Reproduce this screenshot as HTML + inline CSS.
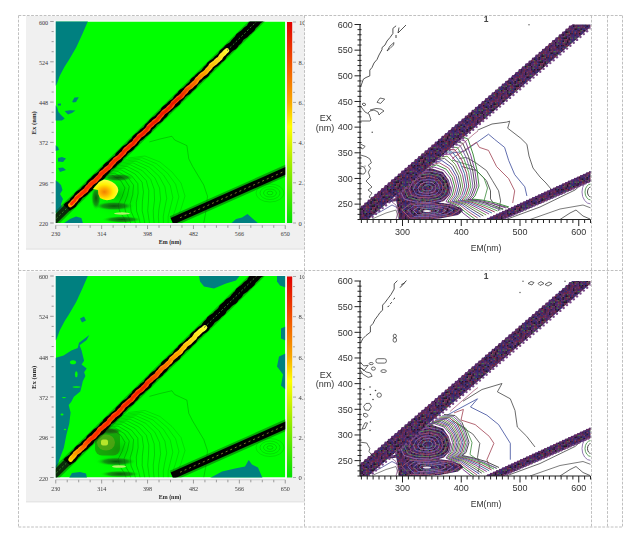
<!DOCTYPE html>
<html><head><meta charset="utf-8"><style>
html,body{margin:0;padding:0;background:#fff;}
body{width:640px;height:545px;overflow:hidden;position:relative;}
svg{position:absolute;left:0;top:0;filter:blur(0.3px);}
.ts{font-family:"Liberation Serif",serif;font-size:6.6px;fill:#3a3a3a;}
.tl{font-family:"Liberation Serif",serif;font-size:7px;font-weight:bold;fill:#2a2a2a;}
.tr{font-family:"Liberation Sans",sans-serif;font-size:9px;fill:#333;}
</style></head><body>
<svg width="640" height="545" viewBox="0 0 640 545">
<defs>
<linearGradient id="cbar" x1="0" y1="0" x2="0" y2="1">
<stop offset="0" stop-color="#e00000"/><stop offset="0.2" stop-color="#f05000"/><stop offset="0.4" stop-color="#f8a800"/>
<stop offset="0.52" stop-color="#ffff00"/><stop offset="0.65" stop-color="#c0f000"/><stop offset="0.85" stop-color="#50e800"/><stop offset="1" stop-color="#00e000"/>
</linearGradient>
<pattern id="bt" patternUnits="userSpaceOnUse" width="24" height="24"><rect width="24" height="24" fill="#40244e"/><rect x="0.0" y="0.0" width="1.5" height="1.5" fill="#4a3060"/><rect x="0.0" y="1.5" width="1.5" height="1.5" fill="#7a2a40"/><rect x="0.0" y="3.0" width="1.5" height="1.5" fill="#6a2a50"/><rect x="0.0" y="4.5" width="1.5" height="1.5" fill="#301838"/><rect x="0.0" y="6.0" width="1.5" height="1.5" fill="#5a2a6a"/><rect x="0.0" y="7.5" width="1.5" height="1.5" fill="#38287a"/><rect x="0.0" y="9.0" width="1.5" height="1.5" fill="#3a2048"/><rect x="0.0" y="10.5" width="1.5" height="1.5" fill="#38287a"/><rect x="0.0" y="12.0" width="1.5" height="1.5" fill="#4a3060"/><rect x="0.0" y="13.5" width="1.5" height="1.5" fill="#6a3070"/><rect x="0.0" y="15.0" width="1.5" height="1.5" fill="#5a2a6a"/><rect x="0.0" y="16.5" width="1.5" height="1.5" fill="#3a2048"/><rect x="0.0" y="18.0" width="1.5" height="1.5" fill="#4a6a4a"/><rect x="0.0" y="19.5" width="1.5" height="1.5" fill="#5a2a6a"/><rect x="0.0" y="21.0" width="1.5" height="1.5" fill="#38287a"/><rect x="0.0" y="22.5" width="1.5" height="1.5" fill="#6a2a50"/><rect x="1.5" y="0.0" width="1.5" height="1.5" fill="#6a2a50"/><rect x="1.5" y="1.5" width="1.5" height="1.5" fill="#38287a"/><rect x="1.5" y="3.0" width="1.5" height="1.5" fill="#4a6a4a"/><rect x="1.5" y="4.5" width="1.5" height="1.5" fill="#38287a"/><rect x="1.5" y="6.0" width="1.5" height="1.5" fill="#3a2048"/><rect x="1.5" y="7.5" width="1.5" height="1.5" fill="#6a2a50"/><rect x="1.5" y="9.0" width="1.5" height="1.5" fill="#5a2a6a"/><rect x="1.5" y="10.5" width="1.5" height="1.5" fill="#6a3070"/><rect x="1.5" y="12.0" width="1.5" height="1.5" fill="#38287a"/><rect x="1.5" y="13.5" width="1.5" height="1.5" fill="#4a6a4a"/><rect x="1.5" y="15.0" width="1.5" height="1.5" fill="#301838"/><rect x="1.5" y="16.5" width="1.5" height="1.5" fill="#301838"/><rect x="1.5" y="18.0" width="1.5" height="1.5" fill="#6a3070"/><rect x="1.5" y="19.5" width="1.5" height="1.5" fill="#5a2a6a"/><rect x="1.5" y="21.0" width="1.5" height="1.5" fill="#6a3070"/><rect x="1.5" y="22.5" width="1.5" height="1.5" fill="#6a3070"/><rect x="3.0" y="0.0" width="1.5" height="1.5" fill="#6a2a50"/><rect x="3.0" y="1.5" width="1.5" height="1.5" fill="#5a2a6a"/><rect x="3.0" y="3.0" width="1.5" height="1.5" fill="#4a6a4a"/><rect x="3.0" y="4.5" width="1.5" height="1.5" fill="#5a2a6a"/><rect x="3.0" y="6.0" width="1.5" height="1.5" fill="#3a2048"/><rect x="3.0" y="7.5" width="1.5" height="1.5" fill="#7a2a40"/><rect x="3.0" y="9.0" width="1.5" height="1.5" fill="#201428"/><rect x="3.0" y="10.5" width="1.5" height="1.5" fill="#6a2a50"/><rect x="3.0" y="12.0" width="1.5" height="1.5" fill="#7a2a40"/><rect x="3.0" y="13.5" width="1.5" height="1.5" fill="#3a2048"/><rect x="3.0" y="15.0" width="1.5" height="1.5" fill="#38287a"/><rect x="3.0" y="16.5" width="1.5" height="1.5" fill="#6a3070"/><rect x="3.0" y="18.0" width="1.5" height="1.5" fill="#201428"/><rect x="3.0" y="19.5" width="1.5" height="1.5" fill="#3a2048"/><rect x="3.0" y="21.0" width="1.5" height="1.5" fill="#301838"/><rect x="3.0" y="22.5" width="1.5" height="1.5" fill="#7a2a40"/><rect x="4.5" y="0.0" width="1.5" height="1.5" fill="#38287a"/><rect x="4.5" y="1.5" width="1.5" height="1.5" fill="#6a3070"/><rect x="4.5" y="3.0" width="1.5" height="1.5" fill="#6a3070"/><rect x="4.5" y="4.5" width="1.5" height="1.5" fill="#301838"/><rect x="4.5" y="6.0" width="1.5" height="1.5" fill="#4a6a4a"/><rect x="4.5" y="7.5" width="1.5" height="1.5" fill="#4a3060"/><rect x="4.5" y="9.0" width="1.5" height="1.5" fill="#38287a"/><rect x="4.5" y="10.5" width="1.5" height="1.5" fill="#3a2048"/><rect x="4.5" y="12.0" width="1.5" height="1.5" fill="#7a4060"/><rect x="4.5" y="13.5" width="1.5" height="1.5" fill="#38287a"/><rect x="4.5" y="15.0" width="1.5" height="1.5" fill="#6a3070"/><rect x="4.5" y="16.5" width="1.5" height="1.5" fill="#5a2a6a"/><rect x="4.5" y="18.0" width="1.5" height="1.5" fill="#6a3070"/><rect x="4.5" y="19.5" width="1.5" height="1.5" fill="#4a6a4a"/><rect x="4.5" y="21.0" width="1.5" height="1.5" fill="#30307a"/><rect x="4.5" y="22.5" width="1.5" height="1.5" fill="#301838"/><rect x="6.0" y="0.0" width="1.5" height="1.5" fill="#3a2048"/><rect x="6.0" y="1.5" width="1.5" height="1.5" fill="#6a2a50"/><rect x="6.0" y="3.0" width="1.5" height="1.5" fill="#4a3060"/><rect x="6.0" y="4.5" width="1.5" height="1.5" fill="#30307a"/><rect x="6.0" y="6.0" width="1.5" height="1.5" fill="#6a3070"/><rect x="6.0" y="7.5" width="1.5" height="1.5" fill="#30307a"/><rect x="6.0" y="9.0" width="1.5" height="1.5" fill="#4a3060"/><rect x="6.0" y="10.5" width="1.5" height="1.5" fill="#201428"/><rect x="6.0" y="12.0" width="1.5" height="1.5" fill="#4a6a4a"/><rect x="6.0" y="13.5" width="1.5" height="1.5" fill="#7a2a40"/><rect x="6.0" y="15.0" width="1.5" height="1.5" fill="#7a4060"/><rect x="6.0" y="16.5" width="1.5" height="1.5" fill="#4a6a4a"/><rect x="6.0" y="18.0" width="1.5" height="1.5" fill="#38287a"/><rect x="6.0" y="19.5" width="1.5" height="1.5" fill="#6a3070"/><rect x="6.0" y="21.0" width="1.5" height="1.5" fill="#201428"/><rect x="6.0" y="22.5" width="1.5" height="1.5" fill="#3a2048"/><rect x="7.5" y="0.0" width="1.5" height="1.5" fill="#30307a"/><rect x="7.5" y="1.5" width="1.5" height="1.5" fill="#4a3060"/><rect x="7.5" y="3.0" width="1.5" height="1.5" fill="#7a4060"/><rect x="7.5" y="4.5" width="1.5" height="1.5" fill="#30307a"/><rect x="7.5" y="6.0" width="1.5" height="1.5" fill="#201428"/><rect x="7.5" y="7.5" width="1.5" height="1.5" fill="#6a3070"/><rect x="7.5" y="9.0" width="1.5" height="1.5" fill="#38287a"/><rect x="7.5" y="10.5" width="1.5" height="1.5" fill="#38287a"/><rect x="7.5" y="12.0" width="1.5" height="1.5" fill="#3a2048"/><rect x="7.5" y="13.5" width="1.5" height="1.5" fill="#6a2a50"/><rect x="7.5" y="15.0" width="1.5" height="1.5" fill="#7a2a40"/><rect x="7.5" y="16.5" width="1.5" height="1.5" fill="#4a3060"/><rect x="7.5" y="18.0" width="1.5" height="1.5" fill="#7a2a40"/><rect x="7.5" y="19.5" width="1.5" height="1.5" fill="#30307a"/><rect x="7.5" y="21.0" width="1.5" height="1.5" fill="#6a2a50"/><rect x="7.5" y="22.5" width="1.5" height="1.5" fill="#5a2a6a"/><rect x="9.0" y="0.0" width="1.5" height="1.5" fill="#301838"/><rect x="9.0" y="1.5" width="1.5" height="1.5" fill="#38287a"/><rect x="9.0" y="3.0" width="1.5" height="1.5" fill="#3a2048"/><rect x="9.0" y="4.5" width="1.5" height="1.5" fill="#6a3070"/><rect x="9.0" y="6.0" width="1.5" height="1.5" fill="#4a3060"/><rect x="9.0" y="7.5" width="1.5" height="1.5" fill="#4a3060"/><rect x="9.0" y="9.0" width="1.5" height="1.5" fill="#7a4060"/><rect x="9.0" y="10.5" width="1.5" height="1.5" fill="#4a3060"/><rect x="9.0" y="12.0" width="1.5" height="1.5" fill="#6a3070"/><rect x="9.0" y="13.5" width="1.5" height="1.5" fill="#30307a"/><rect x="9.0" y="15.0" width="1.5" height="1.5" fill="#6a3070"/><rect x="9.0" y="16.5" width="1.5" height="1.5" fill="#30307a"/><rect x="9.0" y="18.0" width="1.5" height="1.5" fill="#38287a"/><rect x="9.0" y="19.5" width="1.5" height="1.5" fill="#38287a"/><rect x="9.0" y="21.0" width="1.5" height="1.5" fill="#201428"/><rect x="9.0" y="22.5" width="1.5" height="1.5" fill="#30307a"/><rect x="10.5" y="0.0" width="1.5" height="1.5" fill="#7a4060"/><rect x="10.5" y="1.5" width="1.5" height="1.5" fill="#301838"/><rect x="10.5" y="3.0" width="1.5" height="1.5" fill="#38287a"/><rect x="10.5" y="4.5" width="1.5" height="1.5" fill="#5a2a6a"/><rect x="10.5" y="6.0" width="1.5" height="1.5" fill="#7a4060"/><rect x="10.5" y="7.5" width="1.5" height="1.5" fill="#7a4060"/><rect x="10.5" y="9.0" width="1.5" height="1.5" fill="#201428"/><rect x="10.5" y="10.5" width="1.5" height="1.5" fill="#301838"/><rect x="10.5" y="12.0" width="1.5" height="1.5" fill="#6a3070"/><rect x="10.5" y="13.5" width="1.5" height="1.5" fill="#301838"/><rect x="10.5" y="15.0" width="1.5" height="1.5" fill="#30307a"/><rect x="10.5" y="16.5" width="1.5" height="1.5" fill="#201428"/><rect x="10.5" y="18.0" width="1.5" height="1.5" fill="#7a4060"/><rect x="10.5" y="19.5" width="1.5" height="1.5" fill="#6a2a50"/><rect x="10.5" y="21.0" width="1.5" height="1.5" fill="#301838"/><rect x="10.5" y="22.5" width="1.5" height="1.5" fill="#4a3060"/><rect x="12.0" y="0.0" width="1.5" height="1.5" fill="#5a2a6a"/><rect x="12.0" y="1.5" width="1.5" height="1.5" fill="#30307a"/><rect x="12.0" y="3.0" width="1.5" height="1.5" fill="#4a3060"/><rect x="12.0" y="4.5" width="1.5" height="1.5" fill="#7a2a40"/><rect x="12.0" y="6.0" width="1.5" height="1.5" fill="#6a3070"/><rect x="12.0" y="7.5" width="1.5" height="1.5" fill="#38287a"/><rect x="12.0" y="9.0" width="1.5" height="1.5" fill="#30307a"/><rect x="12.0" y="10.5" width="1.5" height="1.5" fill="#5a2a6a"/><rect x="12.0" y="12.0" width="1.5" height="1.5" fill="#4a6a4a"/><rect x="12.0" y="13.5" width="1.5" height="1.5" fill="#201428"/><rect x="12.0" y="15.0" width="1.5" height="1.5" fill="#7a2a40"/><rect x="12.0" y="16.5" width="1.5" height="1.5" fill="#7a4060"/><rect x="12.0" y="18.0" width="1.5" height="1.5" fill="#4a6a4a"/><rect x="12.0" y="19.5" width="1.5" height="1.5" fill="#6a2a50"/><rect x="12.0" y="21.0" width="1.5" height="1.5" fill="#6a2a50"/><rect x="12.0" y="22.5" width="1.5" height="1.5" fill="#30307a"/><rect x="13.5" y="0.0" width="1.5" height="1.5" fill="#38287a"/><rect x="13.5" y="1.5" width="1.5" height="1.5" fill="#7a2a40"/><rect x="13.5" y="3.0" width="1.5" height="1.5" fill="#30307a"/><rect x="13.5" y="4.5" width="1.5" height="1.5" fill="#6a2a50"/><rect x="13.5" y="6.0" width="1.5" height="1.5" fill="#3a2048"/><rect x="13.5" y="7.5" width="1.5" height="1.5" fill="#201428"/><rect x="13.5" y="9.0" width="1.5" height="1.5" fill="#7a2a40"/><rect x="13.5" y="10.5" width="1.5" height="1.5" fill="#6a2a50"/><rect x="13.5" y="12.0" width="1.5" height="1.5" fill="#3a2048"/><rect x="13.5" y="13.5" width="1.5" height="1.5" fill="#201428"/><rect x="13.5" y="15.0" width="1.5" height="1.5" fill="#7a4060"/><rect x="13.5" y="16.5" width="1.5" height="1.5" fill="#6a2a50"/><rect x="13.5" y="18.0" width="1.5" height="1.5" fill="#4a3060"/><rect x="13.5" y="19.5" width="1.5" height="1.5" fill="#301838"/><rect x="13.5" y="21.0" width="1.5" height="1.5" fill="#6a2a50"/><rect x="13.5" y="22.5" width="1.5" height="1.5" fill="#4a6a4a"/><rect x="15.0" y="0.0" width="1.5" height="1.5" fill="#7a2a40"/><rect x="15.0" y="1.5" width="1.5" height="1.5" fill="#38287a"/><rect x="15.0" y="3.0" width="1.5" height="1.5" fill="#7a2a40"/><rect x="15.0" y="4.5" width="1.5" height="1.5" fill="#7a2a40"/><rect x="15.0" y="6.0" width="1.5" height="1.5" fill="#4a6a4a"/><rect x="15.0" y="7.5" width="1.5" height="1.5" fill="#301838"/><rect x="15.0" y="9.0" width="1.5" height="1.5" fill="#4a6a4a"/><rect x="15.0" y="10.5" width="1.5" height="1.5" fill="#5a2a6a"/><rect x="15.0" y="12.0" width="1.5" height="1.5" fill="#30307a"/><rect x="15.0" y="13.5" width="1.5" height="1.5" fill="#6a3070"/><rect x="15.0" y="15.0" width="1.5" height="1.5" fill="#7a2a40"/><rect x="15.0" y="16.5" width="1.5" height="1.5" fill="#201428"/><rect x="15.0" y="18.0" width="1.5" height="1.5" fill="#201428"/><rect x="15.0" y="19.5" width="1.5" height="1.5" fill="#5a2a6a"/><rect x="15.0" y="21.0" width="1.5" height="1.5" fill="#7a2a40"/><rect x="15.0" y="22.5" width="1.5" height="1.5" fill="#6a2a50"/><rect x="16.5" y="0.0" width="1.5" height="1.5" fill="#3a2048"/><rect x="16.5" y="1.5" width="1.5" height="1.5" fill="#4a3060"/><rect x="16.5" y="3.0" width="1.5" height="1.5" fill="#6a3070"/><rect x="16.5" y="4.5" width="1.5" height="1.5" fill="#6a3070"/><rect x="16.5" y="6.0" width="1.5" height="1.5" fill="#4a3060"/><rect x="16.5" y="7.5" width="1.5" height="1.5" fill="#7a2a40"/><rect x="16.5" y="9.0" width="1.5" height="1.5" fill="#7a4060"/><rect x="16.5" y="10.5" width="1.5" height="1.5" fill="#3a2048"/><rect x="16.5" y="12.0" width="1.5" height="1.5" fill="#6a3070"/><rect x="16.5" y="13.5" width="1.5" height="1.5" fill="#301838"/><rect x="16.5" y="15.0" width="1.5" height="1.5" fill="#301838"/><rect x="16.5" y="16.5" width="1.5" height="1.5" fill="#7a4060"/><rect x="16.5" y="18.0" width="1.5" height="1.5" fill="#5a2a6a"/><rect x="16.5" y="19.5" width="1.5" height="1.5" fill="#30307a"/><rect x="16.5" y="21.0" width="1.5" height="1.5" fill="#301838"/><rect x="16.5" y="22.5" width="1.5" height="1.5" fill="#3a2048"/><rect x="18.0" y="0.0" width="1.5" height="1.5" fill="#6a2a50"/><rect x="18.0" y="1.5" width="1.5" height="1.5" fill="#6a2a50"/><rect x="18.0" y="3.0" width="1.5" height="1.5" fill="#6a2a50"/><rect x="18.0" y="4.5" width="1.5" height="1.5" fill="#6a2a50"/><rect x="18.0" y="6.0" width="1.5" height="1.5" fill="#38287a"/><rect x="18.0" y="7.5" width="1.5" height="1.5" fill="#30307a"/><rect x="18.0" y="9.0" width="1.5" height="1.5" fill="#301838"/><rect x="18.0" y="10.5" width="1.5" height="1.5" fill="#6a2a50"/><rect x="18.0" y="12.0" width="1.5" height="1.5" fill="#5a2a6a"/><rect x="18.0" y="13.5" width="1.5" height="1.5" fill="#4a6a4a"/><rect x="18.0" y="15.0" width="1.5" height="1.5" fill="#38287a"/><rect x="18.0" y="16.5" width="1.5" height="1.5" fill="#4a6a4a"/><rect x="18.0" y="18.0" width="1.5" height="1.5" fill="#30307a"/><rect x="18.0" y="19.5" width="1.5" height="1.5" fill="#7a2a40"/><rect x="18.0" y="21.0" width="1.5" height="1.5" fill="#38287a"/><rect x="18.0" y="22.5" width="1.5" height="1.5" fill="#4a3060"/><rect x="19.5" y="0.0" width="1.5" height="1.5" fill="#6a3070"/><rect x="19.5" y="1.5" width="1.5" height="1.5" fill="#5a2a6a"/><rect x="19.5" y="3.0" width="1.5" height="1.5" fill="#38287a"/><rect x="19.5" y="4.5" width="1.5" height="1.5" fill="#5a2a6a"/><rect x="19.5" y="6.0" width="1.5" height="1.5" fill="#6a3070"/><rect x="19.5" y="7.5" width="1.5" height="1.5" fill="#7a2a40"/><rect x="19.5" y="9.0" width="1.5" height="1.5" fill="#3a2048"/><rect x="19.5" y="10.5" width="1.5" height="1.5" fill="#38287a"/><rect x="19.5" y="12.0" width="1.5" height="1.5" fill="#4a3060"/><rect x="19.5" y="13.5" width="1.5" height="1.5" fill="#6a3070"/><rect x="19.5" y="15.0" width="1.5" height="1.5" fill="#5a2a6a"/><rect x="19.5" y="16.5" width="1.5" height="1.5" fill="#38287a"/><rect x="19.5" y="18.0" width="1.5" height="1.5" fill="#4a6a4a"/><rect x="19.5" y="19.5" width="1.5" height="1.5" fill="#6a3070"/><rect x="19.5" y="21.0" width="1.5" height="1.5" fill="#6a2a50"/><rect x="19.5" y="22.5" width="1.5" height="1.5" fill="#7a2a40"/><rect x="21.0" y="0.0" width="1.5" height="1.5" fill="#301838"/><rect x="21.0" y="1.5" width="1.5" height="1.5" fill="#201428"/><rect x="21.0" y="3.0" width="1.5" height="1.5" fill="#4a3060"/><rect x="21.0" y="4.5" width="1.5" height="1.5" fill="#6a3070"/><rect x="21.0" y="6.0" width="1.5" height="1.5" fill="#4a3060"/><rect x="21.0" y="7.5" width="1.5" height="1.5" fill="#30307a"/><rect x="21.0" y="9.0" width="1.5" height="1.5" fill="#38287a"/><rect x="21.0" y="10.5" width="1.5" height="1.5" fill="#38287a"/><rect x="21.0" y="12.0" width="1.5" height="1.5" fill="#30307a"/><rect x="21.0" y="13.5" width="1.5" height="1.5" fill="#30307a"/><rect x="21.0" y="15.0" width="1.5" height="1.5" fill="#30307a"/><rect x="21.0" y="16.5" width="1.5" height="1.5" fill="#30307a"/><rect x="21.0" y="18.0" width="1.5" height="1.5" fill="#201428"/><rect x="21.0" y="19.5" width="1.5" height="1.5" fill="#38287a"/><rect x="21.0" y="21.0" width="1.5" height="1.5" fill="#7a2a40"/><rect x="21.0" y="22.5" width="1.5" height="1.5" fill="#38287a"/><rect x="22.5" y="0.0" width="1.5" height="1.5" fill="#7a4060"/><rect x="22.5" y="1.5" width="1.5" height="1.5" fill="#4a3060"/><rect x="22.5" y="3.0" width="1.5" height="1.5" fill="#7a4060"/><rect x="22.5" y="4.5" width="1.5" height="1.5" fill="#201428"/><rect x="22.5" y="6.0" width="1.5" height="1.5" fill="#30307a"/><rect x="22.5" y="7.5" width="1.5" height="1.5" fill="#7a4060"/><rect x="22.5" y="9.0" width="1.5" height="1.5" fill="#7a2a40"/><rect x="22.5" y="10.5" width="1.5" height="1.5" fill="#3a2048"/><rect x="22.5" y="12.0" width="1.5" height="1.5" fill="#5a2a6a"/><rect x="22.5" y="13.5" width="1.5" height="1.5" fill="#4a6a4a"/><rect x="22.5" y="15.0" width="1.5" height="1.5" fill="#3a2048"/><rect x="22.5" y="16.5" width="1.5" height="1.5" fill="#4a3060"/><rect x="22.5" y="18.0" width="1.5" height="1.5" fill="#7a2a40"/><rect x="22.5" y="19.5" width="1.5" height="1.5" fill="#7a4060"/><rect x="22.5" y="21.0" width="1.5" height="1.5" fill="#3a2048"/><rect x="22.5" y="22.5" width="1.5" height="1.5" fill="#5a2a6a"/></pattern>
<radialGradient id="dk2"><stop offset="0" stop-color="#006000" stop-opacity="0.35"/><stop offset="1" stop-color="#00ff00" stop-opacity="0"/></radialGradient>
<radialGradient id="dk"><stop offset="0" stop-color="#0a3a0a" stop-opacity="0.85"/><stop offset="0.6" stop-color="#1a4a1a" stop-opacity="0.55"/><stop offset="1" stop-color="#00e800" stop-opacity="0"/></radialGradient>
<radialGradient id="yb" cx="0.45" cy="0.6" r="0.6"><stop offset="0" stop-color="#f08000"/><stop offset="0.3" stop-color="#ffb000"/><stop offset="0.6" stop-color="#fff000"/><stop offset="1" stop-color="#ffff50"/></radialGradient>
<linearGradient id="rim0" gradientUnits="userSpaceOnUse" x1="70" y1="205" x2="230" y2="50">
<stop offset="0" stop-color="#ffa000"/><stop offset="0.1" stop-color="#ff5000"/><stop offset="0.7" stop-color="#ff5000"/><stop offset="0.85" stop-color="#ffc000"/><stop offset="1" stop-color="#ffff40"/></linearGradient>
<linearGradient id="rim1" gradientUnits="userSpaceOnUse" x1="70" y1="459.5" x2="204" y2="327.5">
<stop offset="0" stop-color="#ffe000"/><stop offset="0.15" stop-color="#ff5000"/><stop offset="0.6" stop-color="#ff5000"/><stop offset="0.8" stop-color="#ffc000"/><stop offset="1" stop-color="#ffff40"/></linearGradient>
<linearGradient id="core0" gradientUnits="userSpaceOnUse" x1="70" y1="205" x2="230" y2="50">
<stop offset="0" stop-color="#ff3000"/><stop offset="0.68" stop-color="#e81800"/><stop offset="0.85" stop-color="#ffa000"/><stop offset="1" stop-color="#ffff30"/></linearGradient>
<linearGradient id="core1" gradientUnits="userSpaceOnUse" x1="70" y1="459.5" x2="204" y2="327.5">
<stop offset="0" stop-color="#ffc000"/><stop offset="0.15" stop-color="#ff3000"/><stop offset="0.55" stop-color="#f02000"/><stop offset="0.8" stop-color="#ffa000"/><stop offset="1" stop-color="#ffff30"/></linearGradient>
<clipPath id="cbl"><rect x="280" y="0" width="24" height="545"/></clipPath>
</defs>
<rect x="26" y="16" width="278.5" height="233.5" fill="#f0f0f0"/>
<line x1="26" y1="249" x2="304.5" y2="249" stroke="#e2e2e2" stroke-width="1"/>
<rect x="54" y="20.5" width="232.25" height="204.1" fill="#f7fafa"/>
<clipPath id="lc0"><rect x="55.75" y="21.5" width="229.5" height="201.5"/></clipPath>
<g clip-path="url(#lc0)">
<rect x="55.75" y="21.5" width="229.5" height="201.5" fill="#00ff00"/>
<polygon points="55,21 88,21 82.5,33.7 76.2,47.5 68.9,60 64.7,66.6 59.8,75.7 56.5,84.7 55,86" fill="#008080"/>
<polygon points="72.2,101.5 74.5,97.5 78.8,97.2 76,102 73,102.5" fill="#008080"/>
<polygon points="57.8,103.7 61,103.5 61,105.5 58,105.6" fill="#008080"/>
<polygon points="64.7,111 70,110.3 75.5,110.5 72,113 68,114.5 66,112.5" fill="#008080"/>
<polygon points="55,105 57,107 58.5,112 61,115 64.7,118.5 62,120.5 55,120.5" fill="#008080"/>
<polygon points="55,145 58,147 59,150 55,151" fill="#008080"/>
<polygon points="58,158 62,157 66,158.5 63,162 58,161.5" fill="#008080"/>
<polygon points="58,168 63,167.5 66,170 60,172" fill="#008080"/>
<polygon points="55,180 58,182 61,185 62.5,190 60,194 63,199 61,204 62,209 58,212 55,213" fill="#008080"/>
<polygon points="63.4,223.5 70,219 76,216.4 81.4,218 83,223.5" fill="#008080"/>
<polygon points="231,223.5 236,219 242,217.5 247.5,214 252,218 258.4,223.5" fill="#008080"/>
<ellipse cx="118" cy="195" rx="30" ry="26" fill="url(#dk2)"/>
<polyline points="100,176 112,175 121,181 125,188 122,197 118,205 120,212 124,218 126,223" fill="none" stroke="#006000" stroke-opacity="0.6" stroke-width="0.65"/>
<polyline points="102.55,174.36 115,173.27 124.55,179.27 129.27,186.55 127.36,195.73 124.09,204.18 125.55,211.73 128.91,217.82 130.68,223" fill="none" stroke="#006000" stroke-opacity="0.5727272727272728" stroke-width="0.65"/>
<polyline points="105.09,172.73 118,171.55 128.09,177.55 133.55,185.09 132.73,194.45 130.18,203.36 131.09,211.45 133.82,217.64 135.36,223" fill="none" stroke="#006000" stroke-opacity="0.5454545454545454" stroke-width="0.65"/>
<polyline points="107.64,171.09 121,169.82 131.64,175.82 137.82,183.64 138.09,193.18 136.27,202.55 136.64,211.18 138.73,217.45 140.05,223" fill="none" stroke="#006000" stroke-opacity="0.5181818181818182" stroke-width="0.65"/>
<polyline points="110.18,169.45 124,168.09 135.18,174.09 142.09,182.18 143.45,191.91 142.36,201.73 142.18,210.91 143.64,217.27 144.73,223" fill="none" stroke="#006000" stroke-opacity="0.4909090909090909" stroke-width="0.65"/>
<polyline points="112.73,167.82 127,166.36 138.73,172.36 146.36,180.73 148.82,190.64 148.45,200.91 147.73,210.64 148.55,217.09 149.41,223" fill="none" stroke="#006000" stroke-opacity="0.4636363636363636" stroke-width="0.65"/>
<polyline points="115.27,166.18 130,164.64 142.27,170.64 150.64,179.27 154.18,189.36 154.55,200.09 153.27,210.36 153.45,216.91 154.09,223" fill="none" stroke="#006000" stroke-opacity="0.4363636363636364" stroke-width="0.65"/>
<polyline points="117.82,164.55 133,162.91 145.82,168.91 154.91,177.82 159.55,188.09 160.64,199.27 158.82,210.09 158.36,216.73 158.77,223" fill="none" stroke="#006000" stroke-opacity="0.40909090909090906" stroke-width="0.65"/>
<polyline points="120.36,162.91 136,161.18 149.36,167.18 159.18,176.36 164.91,186.82 166.73,198.45 164.36,209.82 163.27,216.55 163.45,223" fill="none" stroke="#006000" stroke-opacity="0.38181818181818183" stroke-width="0.65"/>
<polyline points="122.91,161.27 139,159.45 152.91,165.45 163.45,174.91 170.27,185.55 172.82,197.64 169.91,209.55 168.18,216.36 168.14,223" fill="none" stroke="#006000" stroke-opacity="0.3545454545454545" stroke-width="0.65"/>
<polyline points="125.45,159.64 142,157.73 156.45,163.73 167.73,173.45 175.64,184.27 178.91,196.82 175.45,209.27 173.09,216.18 172.82,223" fill="none" stroke="#006000" stroke-opacity="0.32727272727272727" stroke-width="0.65"/>
<polyline points="128,158 145,156 160,162 172,172 181,183 185,196 181,209 178,216 177.5,223" fill="none" stroke="#006000" stroke-opacity="0.3" stroke-width="0.65"/>
<polyline points="149.4,141.9 160,139 171.9,136.25 174.7,140 186.9,145.6 188.75,158.75 192.5,166.25 203.75,185 207.5,196.25 205.6,213 203.75,223" fill="none" stroke="#006000" stroke-opacity="0.45" stroke-width="0.7"/>
<ellipse cx="270" cy="193" rx="14" ry="9" fill="none" stroke="#006000" stroke-opacity="0.3" stroke-width="0.6"/>
<ellipse cx="270" cy="193" rx="10" ry="6.5" fill="none" stroke="#006000" stroke-opacity="0.35" stroke-width="0.6"/>
<ellipse cx="270" cy="193" rx="6.5" ry="4" fill="none" stroke="#006000" stroke-opacity="0.4" stroke-width="0.6"/>
<ellipse cx="270" cy="193" rx="3" ry="1.8" fill="none" stroke="#006000" stroke-opacity="0.45" stroke-width="0.6"/>
<ellipse cx="118" cy="177.5" rx="16" ry="4" fill="url(#dk)"/>
<ellipse cx="114" cy="206" rx="20" ry="4.5" fill="url(#dk)"/>
<ellipse cx="122" cy="219.5" rx="20" ry="3.5" fill="url(#dk)"/>
<ellipse cx="96" cy="198" rx="5" ry="12" fill="url(#dk)"/>
<ellipse cx="122" cy="213.5" rx="8" ry="1.2" fill="#c8f07a" opacity="0.9"/>
<line x1="47.63" y1="227" x2="261.2" y2="17" stroke="#0a400a" stroke-opacity="0.4" stroke-width="11.5"/>
<line x1="47.63" y1="227" x2="66.95" y2="208" stroke="#0a2a0a" stroke-width="7.5"/>
<polyline points="66.68,208 68.11,206.5 70.39,205 72.51,203.5 73.52,202 74.47,200.5 76.15,199 77.54,197.5 78.34,196 79.85,194.5 82.27,193 84.16,191.5 85.41,190 87.18,188.5 89.14,187 90.11,185.5 90.73,184 92.31,182.5 94.21,181 95.49,179.5 96.99,178 99.38,176.5 101.44,175 102.44,173.5 103.59,172 105.33,170.5 106.55,169 107.27,167.5 108.86,166 111.22,164.5 112.96,163 114.28,161.5 116.25,160 118.21,158.5 119.09,157 119.8,155.5 121.45,154 123.18,152.5 124.31,151 125.9,149.5 128.37,148 130.33,146.5 131.36,145 132.71,143.5 134.49,142 135.55,140.5 136.23,139 137.9,137.5 140.16,136 141.74,134.5 143.16,133 145.31,131.5 147.24,130 148.07,128.5 148.91,127 150.61,125.5 152.15,124 153.15,122.5 154.84,121 157.33,119.5 159.19,118 160.28,116.5 161.84,115 163.63,113.5 164.54,112 165.23,110.5 166.97,109 169.09,107.5 170.52,106 172.05,104.5 174.35,103 176.23,101.5 177.04,100 178.04,98.5 179.76,97 181.11,95.5 182.02,94 183.8,92.5 186.28,91 188.01,89.5 189.2,88 190.96,86.5 192.74,85 193.53,83.5 194.27,82 196.06,80.5 198.01,79 199.31,77.5 200.96,76 203.37,74.5 205.18,73 206.01,71.5 207.18,70 208.92,68.5 210.07,67 210.92,65.5 212.79,64 215.2,62.5 216.81,61 218.12,59.5 220.07,58 221.81,56.5 222.52,55 223.35,53.5 225.17,52 226.92,50.5 228.11,49 229.89,47.5 232.37,46 234.09,44.5 234.97,43 236.34,41.5 238.06,40 239.02,38.5 239.87,37 241.81,35.5 244.1,34 245.6,32.5 247.05,31 249.17,29.5 250.85,28 251.51,26.5 252.47,25 254.29,23.5 255.82,22 256.94,20.5 258.84,19 261.33,17.5" fill="none" stroke="#000" stroke-width="9" stroke-linejoin="round"/>
<polyline points="70.32,205 72.12,203.5 73.23,202 74.9,200.5 76.17,199 76.9,197.5 78.69,196 80.73,194.5 82.13,193 84.11,191.5 86.02,190 86.82,188.5 87.98,187 89.68,185.5 90.79,184 92.46,182.5 94.86,181 96.38,179.5 97.66,178 99.42,176.5 100.4,175 101.28,173.5 103.27,172 105.05,170.5 106.51,169 108.7,167.5 110.34,166 111.09,164.5 112.53,163 114.04,161.5 115.07,160 117.05,158.5 119.32,157 120.64,155.5 122.17,154 123.86,152.5 124.6,151 125.76,149.5 127.8,148 129.32,146.5 130.98,145 133.26,143.5 134.58,142 135.46,140.5 137.07,139 138.32,137.5 139.43,136 141.66,134.5 143.67,133 144.95,131.5 146.73,130 148.2,128.5 148.84,127 150.31,125.5 152.24,124 153.59,122.5 155.54,121 157.74,119.5 158.8,118 159.91,116.5 161.55,115 162.55,113.5 163.89,112 166.23,110.5 167.96,109 169.35,107.5 171.29,106 172.45,104.5 173.16,103 174.88,101.5 176.58,100 177.93,98.5 180.14,97 182.11,95.5 183.06,94 184.44,92.5 185.94,91 186.79,89.5 188.44,88 190.73,86.5 192.22,85 193.85,83.5 195.78,82 196.66,80.5 197.58,79 199.42,77.5 200.85,76 202.36,74.5 204.74,73 206.4,71.5 207.39,70 208.99,68.5 210.24,67 211.09,65.5 213.04,64 215.13,62.5 216.52,61 218.42,59.5 220.17,58 220.88,56.5 222.09,55 223.88,53.5 225.11,52 226.89,50.5" fill="none" stroke="url(#rim0)" stroke-width="4.8" stroke-linecap="round" stroke-linejoin="round"/>
<polyline points="71.44,204 72.68,202.5 74.35,201 75.14,199.5 76.29,198 78.56,196.5 80.27,195 81.8,193.5 83.98,192 85.24,190.5 85.89,189 87.5,187.5 89,186 90.19,184.5 92.47,183 94.61,181.5 95.7,180 97.23,178.5 98.72,177 99.35,175.5 100.84,174 103.05,172.5 104.53,171 106.33,169.5 108.49,168 109.44,166.5 110.31,165 112.03,163.5 113.24,162 114.62,160.5 117.09,159 118.9,157.5 120.04,156 121.8,154.5 123,153 123.64,151.5 125.44,150 127.44,148.5 128.82,147 130.93,145.5 132.89,144 133.64,142.5 134.83,141 136.48,139.5 137.47,138 139.16,136.5 141.64,135 143.14,133.5 144.5,132 146.32,130.5 147.2,129 148.02,127.5 150.03,126 151.73,124.5 153.21,123 155.54,121.5 157.19,120 157.92,118.5 159.39,117 160.81,115.5 161.74,114 163.77,112.5 166.08,111 167.39,109.5 169.04,108 170.75,106.5 171.38,105 172.52,103.5 174.55,102 175.98,100.5 177.71,99 180.11,97.5 181.41,96 182.29,94.5 183.93,93 185.06,91.5 186.11,90 188.4,88.5 190.42,87 191.72,85.5 193.62,84 195.07,82.5 195.62,81 197.09,79.5 198.97,78 200.25,76.5 202.3,75 204.58,73.5 205.62,72 206.78,70.5 208.41,69 209.26,67.5 210.59,66 212.98,64.5 214.68,63 216.14,61.5 218.19,60 219.3,58.5 219.94,57 221.67,55.5 223.28,54 224.6,52.5" fill="none" stroke="url(#core0)" stroke-width="2.8" stroke-linecap="round" stroke-linejoin="round"/>
<line x1="227.13" y1="50.5" x2="261.2" y2="17" stroke="#3a7a2a" stroke-width="1" stroke-dasharray="2 2"/>
<line x1="50.68" y1="224" x2="67.97" y2="207" stroke="#3a7a2a" stroke-width="1" stroke-dasharray="2 2"/>
<path d="M93,189 L99,182 L104,179.5 Q113,180 117.5,187 Q120,192 114,198.5 Q106,202 100,198 Q97.5,194 98,190 Z" fill="url(#yb)"/>
<line x1="172" y1="221.3" x2="290" y2="168.8" stroke="#0a400a" stroke-opacity="0.45" stroke-width="11"/>
<line x1="172" y1="221.3" x2="290" y2="168.8" stroke="#000" stroke-width="7"/>
<line x1="180" y1="217.74" x2="290" y2="168.8" stroke="#c0c040" stroke-opacity="0.7" stroke-width="0.9" stroke-dasharray="2 3"/>
</g>
<rect x="287" y="22" width="5.2" height="201" fill="url(#cbar)"/>
<line x1="293" y1="22" x2="296" y2="22" stroke="#888" stroke-width="0.7"/>
<line x1="293" y1="32.05" x2="295" y2="32.05" stroke="#888" stroke-width="0.7"/>
<line x1="293" y1="42.1" x2="295" y2="42.1" stroke="#888" stroke-width="0.7"/>
<line x1="293" y1="52.15" x2="295" y2="52.15" stroke="#888" stroke-width="0.7"/>
<line x1="293" y1="62.2" x2="296" y2="62.2" stroke="#888" stroke-width="0.7"/>
<line x1="293" y1="72.25" x2="295" y2="72.25" stroke="#888" stroke-width="0.7"/>
<line x1="293" y1="82.3" x2="295" y2="82.3" stroke="#888" stroke-width="0.7"/>
<line x1="293" y1="92.35" x2="295" y2="92.35" stroke="#888" stroke-width="0.7"/>
<line x1="293" y1="102.4" x2="296" y2="102.4" stroke="#888" stroke-width="0.7"/>
<line x1="293" y1="112.45" x2="295" y2="112.45" stroke="#888" stroke-width="0.7"/>
<line x1="293" y1="122.5" x2="295" y2="122.5" stroke="#888" stroke-width="0.7"/>
<line x1="293" y1="132.55" x2="295" y2="132.55" stroke="#888" stroke-width="0.7"/>
<line x1="293" y1="142.6" x2="296" y2="142.6" stroke="#888" stroke-width="0.7"/>
<line x1="293" y1="152.65" x2="295" y2="152.65" stroke="#888" stroke-width="0.7"/>
<line x1="293" y1="162.7" x2="295" y2="162.7" stroke="#888" stroke-width="0.7"/>
<line x1="293" y1="172.75" x2="295" y2="172.75" stroke="#888" stroke-width="0.7"/>
<line x1="293" y1="182.8" x2="296" y2="182.8" stroke="#888" stroke-width="0.7"/>
<line x1="293" y1="192.85" x2="295" y2="192.85" stroke="#888" stroke-width="0.7"/>
<line x1="293" y1="202.9" x2="295" y2="202.9" stroke="#888" stroke-width="0.7"/>
<line x1="293" y1="212.95" x2="295" y2="212.95" stroke="#888" stroke-width="0.7"/>
<line x1="293" y1="223" x2="296" y2="223" stroke="#888" stroke-width="0.7"/>
<text x="299" y="24.6" class="ts" clip-path="url(#cbl)">10</text>
<text x="298.6" y="64.8" class="ts" clip-path="url(#cbl)">8.</text>
<text x="298.6" y="105" class="ts" clip-path="url(#cbl)">6.</text>
<text x="298.6" y="145.2" class="ts" clip-path="url(#cbl)">4.</text>
<text x="298.6" y="185.4" class="ts" clip-path="url(#cbl)">2.</text>
<text x="298.6" y="225.6" class="ts" clip-path="url(#cbl)">0</text>
<line x1="50.2" y1="21.5" x2="53.7" y2="21.5" stroke="#777" stroke-width="0.7"/>
<line x1="51.6" y1="31.57" x2="53.7" y2="31.57" stroke="#777" stroke-width="0.7"/>
<line x1="51.6" y1="41.65" x2="53.7" y2="41.65" stroke="#777" stroke-width="0.7"/>
<line x1="51.6" y1="51.73" x2="53.7" y2="51.73" stroke="#777" stroke-width="0.7"/>
<line x1="50.2" y1="61.8" x2="53.7" y2="61.8" stroke="#777" stroke-width="0.7"/>
<line x1="51.6" y1="71.88" x2="53.7" y2="71.88" stroke="#777" stroke-width="0.7"/>
<line x1="51.6" y1="81.95" x2="53.7" y2="81.95" stroke="#777" stroke-width="0.7"/>
<line x1="51.6" y1="92.03" x2="53.7" y2="92.03" stroke="#777" stroke-width="0.7"/>
<line x1="50.2" y1="102.1" x2="53.7" y2="102.1" stroke="#777" stroke-width="0.7"/>
<line x1="51.6" y1="112.17" x2="53.7" y2="112.17" stroke="#777" stroke-width="0.7"/>
<line x1="51.6" y1="122.25" x2="53.7" y2="122.25" stroke="#777" stroke-width="0.7"/>
<line x1="51.6" y1="132.32" x2="53.7" y2="132.32" stroke="#777" stroke-width="0.7"/>
<line x1="50.2" y1="142.4" x2="53.7" y2="142.4" stroke="#777" stroke-width="0.7"/>
<line x1="51.6" y1="152.47" x2="53.7" y2="152.47" stroke="#777" stroke-width="0.7"/>
<line x1="51.6" y1="162.55" x2="53.7" y2="162.55" stroke="#777" stroke-width="0.7"/>
<line x1="51.6" y1="172.62" x2="53.7" y2="172.62" stroke="#777" stroke-width="0.7"/>
<line x1="50.2" y1="182.7" x2="53.7" y2="182.7" stroke="#777" stroke-width="0.7"/>
<line x1="51.6" y1="192.78" x2="53.7" y2="192.78" stroke="#777" stroke-width="0.7"/>
<line x1="51.6" y1="202.85" x2="53.7" y2="202.85" stroke="#777" stroke-width="0.7"/>
<line x1="51.6" y1="212.93" x2="53.7" y2="212.93" stroke="#777" stroke-width="0.7"/>
<line x1="50.2" y1="223" x2="53.7" y2="223" stroke="#777" stroke-width="0.7"/>
<text x="38.9" y="24.5" class="ts" textLength="9.2" lengthAdjust="spacingAndGlyphs">600</text>
<text x="38.9" y="64.8" class="ts" textLength="9.2" lengthAdjust="spacingAndGlyphs">524</text>
<text x="38.9" y="105.1" class="ts" textLength="9.2" lengthAdjust="spacingAndGlyphs">448</text>
<text x="38.9" y="145.4" class="ts" textLength="9.2" lengthAdjust="spacingAndGlyphs">372</text>
<text x="38.9" y="185.7" class="ts" textLength="9.2" lengthAdjust="spacingAndGlyphs">296</text>
<text x="38.9" y="226" class="ts" textLength="9.2" lengthAdjust="spacingAndGlyphs">220</text>
<line x1="55.75" y1="225.3" x2="285.25" y2="225.3" stroke="#aaa" stroke-width="0.5"/>
<line x1="55.75" y1="225.3" x2="55.75" y2="229" stroke="#777" stroke-width="0.7"/>
<line x1="67.22" y1="225.3" x2="67.22" y2="227.8" stroke="#777" stroke-width="0.7"/>
<line x1="78.7" y1="225.3" x2="78.7" y2="227.8" stroke="#777" stroke-width="0.7"/>
<line x1="90.17" y1="225.3" x2="90.17" y2="227.8" stroke="#777" stroke-width="0.7"/>
<line x1="101.65" y1="225.3" x2="101.65" y2="229" stroke="#777" stroke-width="0.7"/>
<line x1="113.12" y1="225.3" x2="113.12" y2="227.8" stroke="#777" stroke-width="0.7"/>
<line x1="124.6" y1="225.3" x2="124.6" y2="227.8" stroke="#777" stroke-width="0.7"/>
<line x1="136.07" y1="225.3" x2="136.07" y2="227.8" stroke="#777" stroke-width="0.7"/>
<line x1="147.55" y1="225.3" x2="147.55" y2="229" stroke="#777" stroke-width="0.7"/>
<line x1="159.03" y1="225.3" x2="159.03" y2="227.8" stroke="#777" stroke-width="0.7"/>
<line x1="170.5" y1="225.3" x2="170.5" y2="227.8" stroke="#777" stroke-width="0.7"/>
<line x1="181.97" y1="225.3" x2="181.97" y2="227.8" stroke="#777" stroke-width="0.7"/>
<line x1="193.45" y1="225.3" x2="193.45" y2="229" stroke="#777" stroke-width="0.7"/>
<line x1="204.93" y1="225.3" x2="204.93" y2="227.8" stroke="#777" stroke-width="0.7"/>
<line x1="216.4" y1="225.3" x2="216.4" y2="227.8" stroke="#777" stroke-width="0.7"/>
<line x1="227.88" y1="225.3" x2="227.88" y2="227.8" stroke="#777" stroke-width="0.7"/>
<line x1="239.35" y1="225.3" x2="239.35" y2="229" stroke="#777" stroke-width="0.7"/>
<line x1="250.82" y1="225.3" x2="250.82" y2="227.8" stroke="#777" stroke-width="0.7"/>
<line x1="262.3" y1="225.3" x2="262.3" y2="227.8" stroke="#777" stroke-width="0.7"/>
<line x1="273.77" y1="225.3" x2="273.77" y2="227.8" stroke="#777" stroke-width="0.7"/>
<line x1="285.25" y1="225.3" x2="285.25" y2="229" stroke="#777" stroke-width="0.7"/>
<text x="51.25" y="236.4" class="ts" textLength="9.1" lengthAdjust="spacingAndGlyphs">230</text>
<text x="97.15" y="236.4" class="ts" textLength="9.1" lengthAdjust="spacingAndGlyphs">314</text>
<text x="143.05" y="236.4" class="ts" textLength="9.1" lengthAdjust="spacingAndGlyphs">398</text>
<text x="188.95" y="236.4" class="ts" textLength="9.1" lengthAdjust="spacingAndGlyphs">482</text>
<text x="234.85" y="236.4" class="ts" textLength="9.1" lengthAdjust="spacingAndGlyphs">566</text>
<text x="280.75" y="236.4" class="ts" textLength="9.1" lengthAdjust="spacingAndGlyphs">650</text>
<text x="158.8" y="244" class="tl" textLength="22.5" lengthAdjust="spacingAndGlyphs">Em (nm)</text>
<text transform="translate(36.2,134.4) rotate(-90)" class="tl" textLength="23.2" lengthAdjust="spacingAndGlyphs">Ex (nm)</text>
<rect x="26" y="271.5" width="278.5" height="230.8" fill="#f0f0f0"/>
<line x1="26" y1="501.8" x2="304.5" y2="501.8" stroke="#e2e2e2" stroke-width="1"/>
<rect x="54" y="275" width="232.25" height="204.1" fill="#f7fafa"/>
<clipPath id="lc1"><rect x="55.75" y="276" width="229.5" height="201.5"/></clipPath>
<g clip-path="url(#lc1)">
<rect x="55.75" y="276" width="229.5" height="201.5" fill="#00ff00"/>
<polygon points="55,275.5 88,275.5 82.5,288.2 76.2,302 68.9,314.5 64.7,321.1 59.8,330.2 56.5,339.2 55,340.5" fill="#008080"/>
<polygon points="55,358.1 63.6,355.6 71.3,350.4 77.7,347.9 79,342.7 84,338.9 89.3,335 86.7,340.1 79.6,345.3 81.6,350.4 82.8,355.6 84.1,360.7 81.6,364.6 86.7,368.4 84.1,372.3 85.4,376.1 82.8,381.3 81.6,386.4 80.3,391.6 73.9,396.7 71.3,401.8 68.7,405 70.6,412.6 69.3,423.6 66.5,434.6 63.8,448 59.6,459 56.9,467.6 55,468.5" fill="#008080"/>
<ellipse cx="73" cy="362.2" rx="3" ry="2" fill="#00ff00"/>
<ellipse cx="76.3" cy="374.2" rx="1.3" ry="3" fill="#00ff00"/>
<ellipse cx="76.5" cy="387" rx="4" ry="0.8" fill="#00ff00"/>
<ellipse cx="64" cy="397.6" rx="2" ry="0.6" fill="#00ff00"/>
<ellipse cx="62" cy="414.5" rx="1.5" ry="1" fill="#00ff00"/>
<ellipse cx="65" cy="429.5" rx="1.2" ry="0.8" fill="#00ff00"/>
<polygon points="80,318.5 84,316.5 86,320.5 82,322.5" fill="#008080"/>
<polygon points="199,275.5 240,275.5 236,280.5 226,283.5 214,288.5 204,286.5 200,281.5" fill="#008080"/>
<polygon points="277,275.5 285.5,275.5 285.5,287.5 280,285.5 277,281.5" fill="#008080"/>
<polygon points="281,328.5 285.5,326.5 285.5,340.5 281,338.5" fill="#008080"/>
<polygon points="279,356.5 285.5,353.5 285.5,389.5 281,385.5 283,374.5 277,366.5" fill="#008080"/>
<polygon points="69,478 72,473 80,472 86,473.5 87,478" fill="#008080"/>
<polygon points="210,478 222,471.5 235,468.5 245,466.5 248.7,460 252,464.5 258,467.5 262.5,478" fill="#008080"/>
<ellipse cx="118" cy="449.5" rx="30" ry="26" fill="url(#dk2)"/>
<polyline points="100,430.5 112,429.5 121,435.5 125,442.5 122,451.5 118,459.5 120,466.5 124,472.5 126,477.5" fill="none" stroke="#006000" stroke-opacity="0.6" stroke-width="0.65"/>
<polyline points="102.55,428.86 115,427.77 124.55,433.77 129.27,441.05 127.36,450.23 124.09,458.68 125.55,466.23 128.91,472.32 130.68,477.5" fill="none" stroke="#006000" stroke-opacity="0.5727272727272728" stroke-width="0.65"/>
<polyline points="105.09,427.23 118,426.05 128.09,432.05 133.55,439.59 132.73,448.95 130.18,457.86 131.09,465.95 133.82,472.14 135.36,477.5" fill="none" stroke="#006000" stroke-opacity="0.5454545454545454" stroke-width="0.65"/>
<polyline points="107.64,425.59 121,424.32 131.64,430.32 137.82,438.14 138.09,447.68 136.27,457.05 136.64,465.68 138.73,471.95 140.05,477.5" fill="none" stroke="#006000" stroke-opacity="0.5181818181818182" stroke-width="0.65"/>
<polyline points="110.18,423.95 124,422.59 135.18,428.59 142.09,436.68 143.45,446.41 142.36,456.23 142.18,465.41 143.64,471.77 144.73,477.5" fill="none" stroke="#006000" stroke-opacity="0.4909090909090909" stroke-width="0.65"/>
<polyline points="112.73,422.32 127,420.86 138.73,426.86 146.36,435.23 148.82,445.14 148.45,455.41 147.73,465.14 148.55,471.59 149.41,477.5" fill="none" stroke="#006000" stroke-opacity="0.4636363636363636" stroke-width="0.65"/>
<polyline points="115.27,420.68 130,419.14 142.27,425.14 150.64,433.77 154.18,443.86 154.55,454.59 153.27,464.86 153.45,471.41 154.09,477.5" fill="none" stroke="#006000" stroke-opacity="0.4363636363636364" stroke-width="0.65"/>
<polyline points="117.82,419.05 133,417.41 145.82,423.41 154.91,432.32 159.55,442.59 160.64,453.77 158.82,464.59 158.36,471.23 158.77,477.5" fill="none" stroke="#006000" stroke-opacity="0.40909090909090906" stroke-width="0.65"/>
<polyline points="120.36,417.41 136,415.68 149.36,421.68 159.18,430.86 164.91,441.32 166.73,452.95 164.36,464.32 163.27,471.05 163.45,477.5" fill="none" stroke="#006000" stroke-opacity="0.38181818181818183" stroke-width="0.65"/>
<polyline points="122.91,415.77 139,413.95 152.91,419.95 163.45,429.41 170.27,440.05 172.82,452.14 169.91,464.05 168.18,470.86 168.14,477.5" fill="none" stroke="#006000" stroke-opacity="0.3545454545454545" stroke-width="0.65"/>
<polyline points="125.45,414.14 142,412.23 156.45,418.23 167.73,427.95 175.64,438.77 178.91,451.32 175.45,463.77 173.09,470.68 172.82,477.5" fill="none" stroke="#006000" stroke-opacity="0.32727272727272727" stroke-width="0.65"/>
<polyline points="128,412.5 145,410.5 160,416.5 172,426.5 181,437.5 185,450.5 181,463.5 178,470.5 177.5,477.5" fill="none" stroke="#006000" stroke-opacity="0.3" stroke-width="0.65"/>
<polyline points="149.4,396.4 160,393.5 171.9,390.75 174.7,394.5 186.9,400.1 188.75,413.25 192.5,420.75 203.75,439.5 207.5,450.75 205.6,467.5 203.75,477.5" fill="none" stroke="#006000" stroke-opacity="0.45" stroke-width="0.7"/>
<ellipse cx="270" cy="447.5" rx="14" ry="9" fill="none" stroke="#006000" stroke-opacity="0.3" stroke-width="0.6"/>
<ellipse cx="270" cy="447.5" rx="10" ry="6.5" fill="none" stroke="#006000" stroke-opacity="0.35" stroke-width="0.6"/>
<ellipse cx="270" cy="447.5" rx="6.5" ry="4" fill="none" stroke="#006000" stroke-opacity="0.4" stroke-width="0.6"/>
<ellipse cx="270" cy="447.5" rx="3" ry="1.8" fill="none" stroke="#006000" stroke-opacity="0.45" stroke-width="0.6"/>
<ellipse cx="110" cy="431" rx="13" ry="3.5" fill="url(#dk)"/>
<rect x="95" y="429.5" width="25" height="26" rx="7" fill="#2a5a10" opacity="0.5"/>
<ellipse cx="106" cy="442.5" rx="9" ry="8" fill="#8aaa20" opacity="0.45"/>
<rect x="101" y="439.5" width="7" height="6" rx="2" fill="#c8f030" opacity="0.85"/>
<ellipse cx="116" cy="461.5" rx="20" ry="4.5" fill="url(#dk)"/>
<ellipse cx="120" cy="474" rx="20" ry="3.5" fill="url(#dk)"/>
<ellipse cx="119" cy="466.5" rx="7" ry="1.3" fill="#c8f07a" opacity="0.9"/>
<line x1="47.63" y1="481.5" x2="261.2" y2="271.5" stroke="#0a400a" stroke-opacity="0.4" stroke-width="11.5"/>
<line x1="47.63" y1="481.5" x2="66.95" y2="462.5" stroke="#0a2a0a" stroke-width="7.5"/>
<polyline points="66.68,462.5 68.11,461 70.39,459.5 72.51,458 73.52,456.5 74.47,455 76.15,453.5 77.54,452 78.34,450.5 79.85,449 82.27,447.5 84.16,446 85.41,444.5 87.18,443 89.14,441.5 90.11,440 90.73,438.5 92.31,437 94.21,435.5 95.49,434 96.99,432.5 99.38,431 101.44,429.5 102.44,428 103.59,426.5 105.33,425 106.55,423.5 107.27,422 108.86,420.5 111.22,419 112.96,417.5 114.28,416 116.25,414.5 118.21,413 119.09,411.5 119.8,410 121.45,408.5 123.18,407 124.31,405.5 125.9,404 128.37,402.5 130.33,401 131.36,399.5 132.71,398 134.49,396.5 135.55,395 136.23,393.5 137.9,392 140.16,390.5 141.74,389 143.16,387.5 145.31,386 147.24,384.5 148.07,383 148.91,381.5 150.61,380 152.15,378.5 153.15,377 154.84,375.5 157.33,374 159.19,372.5 160.28,371 161.84,369.5 163.63,368 164.54,366.5 165.23,365 166.97,363.5 169.09,362 170.52,360.5 172.05,359 174.35,357.5 176.23,356 177.04,354.5 178.04,353 179.76,351.5 181.11,350 182.02,348.5 183.8,347 186.28,345.5 188.01,344 189.2,342.5 190.96,341 192.74,339.5 193.53,338 194.27,336.5 196.06,335 198.01,333.5 199.31,332 200.96,330.5 203.37,329 205.18,327.5 206.01,326 207.18,324.5 208.92,323 210.07,321.5 210.92,320 212.79,318.5 215.2,317 216.81,315.5 218.12,314 220.07,312.5 221.81,311 222.52,309.5 223.35,308 225.17,306.5 226.92,305 228.11,303.5 229.89,302 232.37,300.5 234.09,299 234.97,297.5 236.34,296 238.06,294.5 239.02,293 239.87,291.5 241.81,290 244.1,288.5 245.6,287 247.05,285.5 249.17,284 250.85,282.5 251.51,281 252.47,279.5 254.29,278 255.82,276.5 256.94,275 258.84,273.5 261.33,272" fill="none" stroke="#000" stroke-width="9" stroke-linejoin="round"/>
<polyline points="70.64,459.5 71.66,458 73.27,456.5 74.55,455 75.34,453.5 77.21,452 79.3,450.5 80.7,449 82.62,447.5 84.45,446 85.2,444.5 86.36,443 88.12,441.5 89.31,440 91.03,438.5 93.43,437 94.88,435.5 96.08,434 97.79,432.5 98.78,431 99.72,429.5 101.8,428 103.62,426.5 105.07,425 107.2,423.5 108.76,422 109.47,420.5 110.91,419 112.49,417.5 113.6,416 115.62,414.5 117.88,413 119.14,411.5 120.59,410 122.23,408.5 122.99,407 124.21,405.5 126.33,404 127.89,402.5 129.54,401 131.76,399.5 133,398 133.83,396.5 135.46,395 136.77,393.5 137.97,392 140.23,390.5 142.24,389 143.44,387.5 145.15,386 146.57,384.5 147.23,383 148.76,381.5 150.77,380 152.17,378.5 154.1,377 156.23,375.5 157.21,374 158.29,372.5 159.94,371 161.01,369.5 162.43,368 164.81,366.5 166.52,365 167.84,363.5 169.7,362 170.82,360.5 171.55,359 173.34,357.5 175.12,356 176.51,354.5 178.7,353 180.6,351.5 181.46,350 182.81,348.5 184.34,347 185.25,345.5 186.99,344 189.31,342.5 190.77,341 192.33,339.5 194.18,338 195.03,336.5 195.98,335 197.89,333.5 199.4,332 200.94,330.5 203.29,329 204.88,327.5" fill="none" stroke="url(#rim1)" stroke-width="4.8" stroke-linecap="round" stroke-linejoin="round"/>
<polyline points="71.06,458.5 72.71,457 73.55,455.5 74.78,454 77.13,452.5 78.86,451 80.34,449.5 82.43,448 83.62,446.5 84.25,445 85.91,443.5 87.5,442 88.76,440.5 91.06,439 93.15,437.5 94.15,436 95.61,434.5 97.09,433 97.77,431.5 99.34,430 101.63,428.5 103.11,427 104.86,425.5 106.93,424 107.81,422.5 108.67,421 110.45,419.5 111.75,418 113.2,416.5 115.68,415 117.43,413.5 118.48,412 120.17,410.5 121.36,409 122.06,407.5 123.95,406 126.02,404.5 127.41,403 129.45,401.5 131.33,400 132.01,398.5 133.19,397 134.9,395.5 135.98,394 137.74,392.5 140.22,391 141.66,389.5 142.93,388 144.69,386.5 145.56,385 146.45,383.5 148.55,382 150.31,380.5 151.8,379 154.06,377.5 155.62,376 156.28,374.5 157.76,373 159.24,371.5 160.26,370 162.36,368.5 164.66,367 165.91,365.5 167.47,364 169.12,362.5 169.75,361 170.95,359.5 173.07,358 174.57,356.5 176.29,355 178.62,353.5 179.83,352 180.66,350.5 182.3,349 183.5,347.5 184.64,346 186.99,344.5 188.99,343 190.23,341.5 192.04,340 193.43,338.5 193.99,337 195.53,335.5 197.5,334 198.84,332.5 200.88,331 203.08,329.5" fill="none" stroke="url(#core1)" stroke-width="2.8" stroke-linecap="round" stroke-linejoin="round"/>
<line x1="204.24" y1="327.5" x2="261.2" y2="271.5" stroke="#3a7a2a" stroke-width="1" stroke-dasharray="2 2"/>
<line x1="50.68" y1="478.5" x2="67.97" y2="461.5" stroke="#3a7a2a" stroke-width="1" stroke-dasharray="2 2"/>
<line x1="172" y1="475.8" x2="290" y2="423.3" stroke="#0a400a" stroke-opacity="0.45" stroke-width="11"/>
<line x1="172" y1="475.8" x2="290" y2="423.3" stroke="#000" stroke-width="7"/>
<line x1="180" y1="472.24" x2="290" y2="423.3" stroke="#c0c040" stroke-opacity="0.7" stroke-width="0.9" stroke-dasharray="2 3"/>
</g>
<rect x="287" y="276.5" width="5.2" height="201" fill="url(#cbar)"/>
<line x1="293" y1="276.5" x2="296" y2="276.5" stroke="#888" stroke-width="0.7"/>
<line x1="293" y1="286.55" x2="295" y2="286.55" stroke="#888" stroke-width="0.7"/>
<line x1="293" y1="296.6" x2="295" y2="296.6" stroke="#888" stroke-width="0.7"/>
<line x1="293" y1="306.65" x2="295" y2="306.65" stroke="#888" stroke-width="0.7"/>
<line x1="293" y1="316.7" x2="296" y2="316.7" stroke="#888" stroke-width="0.7"/>
<line x1="293" y1="326.75" x2="295" y2="326.75" stroke="#888" stroke-width="0.7"/>
<line x1="293" y1="336.8" x2="295" y2="336.8" stroke="#888" stroke-width="0.7"/>
<line x1="293" y1="346.85" x2="295" y2="346.85" stroke="#888" stroke-width="0.7"/>
<line x1="293" y1="356.9" x2="296" y2="356.9" stroke="#888" stroke-width="0.7"/>
<line x1="293" y1="366.95" x2="295" y2="366.95" stroke="#888" stroke-width="0.7"/>
<line x1="293" y1="377" x2="295" y2="377" stroke="#888" stroke-width="0.7"/>
<line x1="293" y1="387.05" x2="295" y2="387.05" stroke="#888" stroke-width="0.7"/>
<line x1="293" y1="397.1" x2="296" y2="397.1" stroke="#888" stroke-width="0.7"/>
<line x1="293" y1="407.15" x2="295" y2="407.15" stroke="#888" stroke-width="0.7"/>
<line x1="293" y1="417.2" x2="295" y2="417.2" stroke="#888" stroke-width="0.7"/>
<line x1="293" y1="427.25" x2="295" y2="427.25" stroke="#888" stroke-width="0.7"/>
<line x1="293" y1="437.3" x2="296" y2="437.3" stroke="#888" stroke-width="0.7"/>
<line x1="293" y1="447.35" x2="295" y2="447.35" stroke="#888" stroke-width="0.7"/>
<line x1="293" y1="457.4" x2="295" y2="457.4" stroke="#888" stroke-width="0.7"/>
<line x1="293" y1="467.45" x2="295" y2="467.45" stroke="#888" stroke-width="0.7"/>
<line x1="293" y1="477.5" x2="296" y2="477.5" stroke="#888" stroke-width="0.7"/>
<text x="299" y="279.1" class="ts" clip-path="url(#cbl)">10</text>
<text x="298.6" y="319.3" class="ts" clip-path="url(#cbl)">8.</text>
<text x="298.6" y="359.5" class="ts" clip-path="url(#cbl)">6.</text>
<text x="298.6" y="399.7" class="ts" clip-path="url(#cbl)">4.</text>
<text x="298.6" y="439.9" class="ts" clip-path="url(#cbl)">2.</text>
<text x="298.6" y="480.1" class="ts" clip-path="url(#cbl)">0</text>
<line x1="50.2" y1="276" x2="53.7" y2="276" stroke="#777" stroke-width="0.7"/>
<line x1="51.6" y1="286.07" x2="53.7" y2="286.07" stroke="#777" stroke-width="0.7"/>
<line x1="51.6" y1="296.15" x2="53.7" y2="296.15" stroke="#777" stroke-width="0.7"/>
<line x1="51.6" y1="306.23" x2="53.7" y2="306.23" stroke="#777" stroke-width="0.7"/>
<line x1="50.2" y1="316.3" x2="53.7" y2="316.3" stroke="#777" stroke-width="0.7"/>
<line x1="51.6" y1="326.38" x2="53.7" y2="326.38" stroke="#777" stroke-width="0.7"/>
<line x1="51.6" y1="336.45" x2="53.7" y2="336.45" stroke="#777" stroke-width="0.7"/>
<line x1="51.6" y1="346.52" x2="53.7" y2="346.52" stroke="#777" stroke-width="0.7"/>
<line x1="50.2" y1="356.6" x2="53.7" y2="356.6" stroke="#777" stroke-width="0.7"/>
<line x1="51.6" y1="366.68" x2="53.7" y2="366.68" stroke="#777" stroke-width="0.7"/>
<line x1="51.6" y1="376.75" x2="53.7" y2="376.75" stroke="#777" stroke-width="0.7"/>
<line x1="51.6" y1="386.82" x2="53.7" y2="386.82" stroke="#777" stroke-width="0.7"/>
<line x1="50.2" y1="396.9" x2="53.7" y2="396.9" stroke="#777" stroke-width="0.7"/>
<line x1="51.6" y1="406.98" x2="53.7" y2="406.98" stroke="#777" stroke-width="0.7"/>
<line x1="51.6" y1="417.05" x2="53.7" y2="417.05" stroke="#777" stroke-width="0.7"/>
<line x1="51.6" y1="427.12" x2="53.7" y2="427.12" stroke="#777" stroke-width="0.7"/>
<line x1="50.2" y1="437.2" x2="53.7" y2="437.2" stroke="#777" stroke-width="0.7"/>
<line x1="51.6" y1="447.27" x2="53.7" y2="447.27" stroke="#777" stroke-width="0.7"/>
<line x1="51.6" y1="457.35" x2="53.7" y2="457.35" stroke="#777" stroke-width="0.7"/>
<line x1="51.6" y1="467.43" x2="53.7" y2="467.43" stroke="#777" stroke-width="0.7"/>
<line x1="50.2" y1="477.5" x2="53.7" y2="477.5" stroke="#777" stroke-width="0.7"/>
<text x="38.9" y="279" class="ts" textLength="9.2" lengthAdjust="spacingAndGlyphs">600</text>
<text x="38.9" y="319.3" class="ts" textLength="9.2" lengthAdjust="spacingAndGlyphs">524</text>
<text x="38.9" y="359.6" class="ts" textLength="9.2" lengthAdjust="spacingAndGlyphs">448</text>
<text x="38.9" y="399.9" class="ts" textLength="9.2" lengthAdjust="spacingAndGlyphs">372</text>
<text x="38.9" y="440.2" class="ts" textLength="9.2" lengthAdjust="spacingAndGlyphs">296</text>
<text x="38.9" y="480.5" class="ts" textLength="9.2" lengthAdjust="spacingAndGlyphs">220</text>
<line x1="55.75" y1="479.8" x2="285.25" y2="479.8" stroke="#aaa" stroke-width="0.5"/>
<line x1="55.75" y1="479.8" x2="55.75" y2="483.5" stroke="#777" stroke-width="0.7"/>
<line x1="67.22" y1="479.8" x2="67.22" y2="482.3" stroke="#777" stroke-width="0.7"/>
<line x1="78.7" y1="479.8" x2="78.7" y2="482.3" stroke="#777" stroke-width="0.7"/>
<line x1="90.17" y1="479.8" x2="90.17" y2="482.3" stroke="#777" stroke-width="0.7"/>
<line x1="101.65" y1="479.8" x2="101.65" y2="483.5" stroke="#777" stroke-width="0.7"/>
<line x1="113.12" y1="479.8" x2="113.12" y2="482.3" stroke="#777" stroke-width="0.7"/>
<line x1="124.6" y1="479.8" x2="124.6" y2="482.3" stroke="#777" stroke-width="0.7"/>
<line x1="136.07" y1="479.8" x2="136.07" y2="482.3" stroke="#777" stroke-width="0.7"/>
<line x1="147.55" y1="479.8" x2="147.55" y2="483.5" stroke="#777" stroke-width="0.7"/>
<line x1="159.03" y1="479.8" x2="159.03" y2="482.3" stroke="#777" stroke-width="0.7"/>
<line x1="170.5" y1="479.8" x2="170.5" y2="482.3" stroke="#777" stroke-width="0.7"/>
<line x1="181.97" y1="479.8" x2="181.97" y2="482.3" stroke="#777" stroke-width="0.7"/>
<line x1="193.45" y1="479.8" x2="193.45" y2="483.5" stroke="#777" stroke-width="0.7"/>
<line x1="204.93" y1="479.8" x2="204.93" y2="482.3" stroke="#777" stroke-width="0.7"/>
<line x1="216.4" y1="479.8" x2="216.4" y2="482.3" stroke="#777" stroke-width="0.7"/>
<line x1="227.88" y1="479.8" x2="227.88" y2="482.3" stroke="#777" stroke-width="0.7"/>
<line x1="239.35" y1="479.8" x2="239.35" y2="483.5" stroke="#777" stroke-width="0.7"/>
<line x1="250.82" y1="479.8" x2="250.82" y2="482.3" stroke="#777" stroke-width="0.7"/>
<line x1="262.3" y1="479.8" x2="262.3" y2="482.3" stroke="#777" stroke-width="0.7"/>
<line x1="273.77" y1="479.8" x2="273.77" y2="482.3" stroke="#777" stroke-width="0.7"/>
<line x1="285.25" y1="479.8" x2="285.25" y2="483.5" stroke="#777" stroke-width="0.7"/>
<text x="51.25" y="490.9" class="ts" textLength="9.1" lengthAdjust="spacingAndGlyphs">230</text>
<text x="97.15" y="490.9" class="ts" textLength="9.1" lengthAdjust="spacingAndGlyphs">314</text>
<text x="143.05" y="490.9" class="ts" textLength="9.1" lengthAdjust="spacingAndGlyphs">398</text>
<text x="188.95" y="490.9" class="ts" textLength="9.1" lengthAdjust="spacingAndGlyphs">482</text>
<text x="234.85" y="490.9" class="ts" textLength="9.1" lengthAdjust="spacingAndGlyphs">566</text>
<text x="280.75" y="490.9" class="ts" textLength="9.1" lengthAdjust="spacingAndGlyphs">650</text>
<text x="158.8" y="498.5" class="tl" textLength="22.5" lengthAdjust="spacingAndGlyphs">Em (nm)</text>
<text transform="translate(36.2,388.9) rotate(-90)" class="tl" textLength="23.2" lengthAdjust="spacingAndGlyphs">Ex (nm)</text>
<clipPath id="rc0"><rect x="360.0" y="24.5" width="230.5" height="195"/></clipPath>
<g clip-path="url(#rc0)">
<polyline points="477.4,130.2 492,124 506.7,122.1 509.7,121.1 507.7,128.2 520.8,138.3 526.9,144.3 529,156 533,168 540,177 546,183 551,189" fill="none" stroke="#444" stroke-width="0.8"/>
<polyline points="449.1,153.4 464.2,151.4 488.5,134.2 494.5,139.3 504.6,147.4 508.7,160.5 514.7,174.6 524.8,186.8 526.9,196" fill="none" stroke="#3a4a9a" stroke-width="0.8"/>
<polyline points="452,158.5 476.4,142.3 479.4,147.4 488.5,150.4 496.6,166.6 508.7,178.7 514.7,190.8 512.7,203" fill="none" stroke="#a04050" stroke-width="0.8"/>
<polyline points="459.2,158.5 466.3,157.5 475.4,162.5 486.5,170.6 492.5,180.7 498.6,190.8 500.6,200.9 498.6,211" fill="none" stroke="#444" stroke-width="0.8"/>
<polyline points="462.2,166.6 476.4,170.6 486.5,180.7 490.5,190.8 490.5,198.9 494,204 508,207.5" fill="none" stroke="#333" stroke-width="0.8"/>
<polyline points="452,160 472,166 484,178 487.5,188 484,200.9 490,206 503,209.5" fill="none" stroke="#3a8a3a" stroke-width="0.8"/>
<polyline points="424,171 434,167 444,170.5 450,178 452.5,186 450.5,195 446,201.5 456,206 463,213 472,220" fill="none" stroke="#7a3a8a" stroke-width="0.95"/>
<polyline points="426.77,168.31 436.62,164.85 446.23,169.23 452.08,177.38 454.54,186 452.38,195.08 448,201.31 458,205.54 465.54,212.23 474.85,219" fill="none" stroke="#3a8a3a" stroke-width="0.95"/>
<polyline points="429.54,165.62 439.23,162.69 448.46,167.96 454.15,176.77 456.58,186 454.27,195.15 450,201.12 460,205.08 468.08,211.46 477.69,218" fill="none" stroke="#a05070" stroke-width="0.95"/>
<polyline points="432.31,162.92 441.85,160.54 450.69,166.69 456.23,176.15 458.62,186 456.15,195.23 452,200.92 462,204.62 470.62,210.69 480.54,217" fill="none" stroke="#4a4aa0" stroke-width="0.95"/>
<polyline points="435.08,160.23 444.46,158.38 452.92,165.42 458.31,175.54 460.65,186 458.04,195.31 454,200.73 464,204.15 473.15,209.92 483.38,216" fill="none" stroke="#555555" stroke-width="0.95"/>
<polyline points="437.85,157.54 447.08,156.23 455.15,164.15 460.38,174.92 462.69,186 459.92,195.38 456,200.54 466,203.69 475.69,209.15 486.23,215" fill="none" stroke="#6a9a4a" stroke-width="0.95"/>
<polyline points="440.62,154.85 449.69,154.08 457.38,162.88 462.46,174.31 464.73,186 461.81,195.46 458,200.35 468,203.23 478.23,208.38 489.08,214" fill="none" stroke="#8a3a8a" stroke-width="0.95"/>
<polyline points="443.38,152.15 452.31,151.92 459.62,161.62 464.54,173.69 466.77,186 463.69,195.54 460,200.15 470,202.77 480.77,207.62 491.92,213" fill="none" stroke="#3a6a9a" stroke-width="0.95"/>
<polyline points="446.15,149.46 454.92,149.77 461.85,160.35 466.62,173.08 468.81,186 465.58,195.62 462,199.96 472,202.31 483.31,206.85 494.77,212" fill="none" stroke="#903050" stroke-width="0.95"/>
<polyline points="448.92,146.77 457.54,147.62 464.08,159.08 468.69,172.46 470.85,186 467.46,195.69 464,199.77 474,201.85 485.85,206.08 497.62,211" fill="none" stroke="#50a050" stroke-width="0.95"/>
<polyline points="451.69,144.08 460.15,145.46 466.31,157.81 470.77,171.85 472.88,186 469.35,195.77 466,199.58 476,201.38 488.38,205.31 500.46,210" fill="none" stroke="#7a5aa0" stroke-width="0.95"/>
<polyline points="454.46,141.38 462.77,143.31 468.54,156.54 472.85,171.23 474.92,186 471.23,195.85 468,199.38 478,200.92 490.92,204.54 503.31,209" fill="none" stroke="#444" stroke-width="0.95"/>
<polyline points="457.23,138.69 465.38,141.15 470.77,155.27 474.92,170.62 476.96,186 473.12,195.92 470,199.19 480,200.46 493.46,203.77 506.15,208" fill="none" stroke="#7a3a8a" stroke-width="0.95"/>
<polyline points="460,136 468,139 473,154 477,170 479,186 475,196 472,199 482,200 496,203 509,207" fill="none" stroke="#3a8a3a" stroke-width="0.95"/>
<polyline points="445,152 470,131 485,118" fill="none" stroke="#4a4aa0" stroke-width="0.7"/>
<polyline points="450,155 474,134 478,131" fill="none" stroke="#a05070" stroke-width="0.7"/>
<polyline points="366,218 380,212 392,205 398,208 402,219.5" fill="none" stroke="#3a3a8a" stroke-width="0.7"/>
<polyline points="372,219 386,213 396,210 399,219.5" fill="none" stroke="#555" stroke-width="0.7"/>
<polyline points="392,202 396,205 398,212 396,219.5" fill="none" stroke="#7a3a7a" stroke-width="0.7"/>
<ellipse cx="591" cy="192" rx="9" ry="12" fill="none" stroke="#7a5aa0" stroke-width="0.8"/>
<ellipse cx="591" cy="192" rx="6" ry="8" fill="none" stroke="#3a8a3a" stroke-width="0.8"/>
<ellipse cx="591" cy="192" rx="3.5" ry="5" fill="none" stroke="#333" stroke-width="0.9"/>
<polyline points="506,219.5 540,207 575,190 582,184" fill="none" stroke="#444" stroke-width="0.8"/>
<polyline points="560,219.5 570,213 576,210 583,216 590,219" fill="none" stroke="#444" stroke-width="0.8"/>
<polyline points="530,219.5 560,209 583,205 591,208" fill="none" stroke="#444" stroke-width="0.7"/>
<polygon points="384,203 395.5,198 398,190 400,180 410,174 420,170 432,168.5 443,172 448.7,180 451,187.5 449.5,195 444,201 434,204 415,203 404,201 397,201" fill="url(#bt)"/>
<polygon points="396,200 415,201.5 434,202 450,204 461,208 463,211 458,215 440,218.5 420,220 399,220 398,210" fill="url(#bt)"/>
<polygon points="404,199 400,190 405,180 416,173 430,171 442,174 448,181 450,188 448,195 442,200 430,202.5 415,202" fill="none" stroke="#b090d0" stroke-width="0.6"/>
<polygon points="407.84,197.24 404.48,189.68 408.68,181.28 417.92,175.4 429.68,173.72 439.76,176.24 444.8,182.12 446.48,188 444.8,193.88 439.76,198.08 429.68,200.18 417.08,199.76" fill="none" stroke="#70b070" stroke-width="0.6"/>
<polygon points="411.68,195.48 408.96,189.36 412.36,182.56 419.84,177.8 429.36,176.44 437.52,178.48 441.6,183.24 442.96,188 441.6,192.76 437.52,196.16 429.36,197.86 419.16,197.52" fill="none" stroke="#c07090" stroke-width="0.6"/>
<polygon points="415.52,193.72 413.44,189.04 416.04,183.84 421.76,180.2 429.04,179.16 435.28,180.72 438.4,184.36 439.44,188 438.4,191.64 435.28,194.24 429.04,195.54 421.24,195.28" fill="none" stroke="#9080d0" stroke-width="0.6"/>
<polygon points="419.36,191.96 417.92,188.72 419.72,185.12 423.68,182.6 428.72,181.88 433.04,182.96 435.2,185.48 435.92,188 435.2,190.52 433.04,192.32 428.72,193.22 423.32,193.04" fill="none" stroke="#b090d0" stroke-width="0.6"/>
<polygon points="423.2,190.2 422.4,188.4 423.4,186.4 425.6,185 428.4,184.6 430.8,185.2 432,186.6 432.4,188 432,189.4 430.8,190.4 428.4,190.9 425.4,190.8" fill="none" stroke="#80a0c0" stroke-width="0.6"/>
<polygon points="402,210 410,204 430,203.5 452,206 460,210 452,215 430,218 410,218" fill="none" stroke="#c07090" stroke-width="0.6"/>
<polygon points="407.72,210.22 413.96,205.54 429.56,205.15 446.72,207.1 452.96,210.22 446.72,214.12 429.56,216.46 413.96,216.46" fill="none" stroke="#9080d0" stroke-width="0.6"/>
<polygon points="413.44,210.44 417.92,207.08 429.12,206.8 441.44,208.2 445.92,210.44 441.44,213.24 429.12,214.92 417.92,214.92" fill="none" stroke="#b090d0" stroke-width="0.6"/>
<polygon points="419.16,210.66 421.88,208.62 428.68,208.45 436.16,209.3 438.88,210.66 436.16,212.36 428.68,213.38 421.88,213.38" fill="none" stroke="#80a0c0" stroke-width="0.6"/>
<ellipse cx="427" cy="211" rx="4" ry="1" fill="#ffffff" opacity="0.9"/>
<polygon points="577.38,20 598.88,20 365.37,222 343.87,222" fill="url(#bt)"/>
<circle cx="573.36" cy="24" r="1.3" fill="#5a2a6a"/>
<circle cx="593.86" cy="25.4" r="1.2" fill="#7a4a8a"/>
<circle cx="570" cy="26.9" r="1.3" fill="#5a2a6a"/>
<circle cx="590.5" cy="28.3" r="1.2" fill="#7a4a8a"/>
<circle cx="566.65" cy="29.8" r="1.3" fill="#5a2a6a"/>
<circle cx="587.15" cy="31.2" r="1.2" fill="#7a4a8a"/>
<circle cx="563.3" cy="32.7" r="1.3" fill="#5a2a6a"/>
<circle cx="583.8" cy="34.1" r="1.2" fill="#7a4a8a"/>
<circle cx="559.95" cy="35.6" r="1.3" fill="#5a2a6a"/>
<circle cx="580.45" cy="37" r="1.2" fill="#7a4a8a"/>
<circle cx="556.59" cy="38.5" r="1.3" fill="#5a2a6a"/>
<circle cx="577.09" cy="39.9" r="1.2" fill="#7a4a8a"/>
<circle cx="553.24" cy="41.4" r="1.3" fill="#5a2a6a"/>
<circle cx="573.74" cy="42.8" r="1.2" fill="#7a4a8a"/>
<circle cx="549.89" cy="44.3" r="1.3" fill="#5a2a6a"/>
<circle cx="570.39" cy="45.7" r="1.2" fill="#7a4a8a"/>
<circle cx="546.54" cy="47.2" r="1.3" fill="#5a2a6a"/>
<circle cx="567.04" cy="48.6" r="1.2" fill="#7a4a8a"/>
<circle cx="543.18" cy="50.1" r="1.3" fill="#5a2a6a"/>
<circle cx="563.68" cy="51.5" r="1.2" fill="#7a4a8a"/>
<circle cx="539.83" cy="53" r="1.3" fill="#5a2a6a"/>
<circle cx="560.33" cy="54.4" r="1.2" fill="#7a4a8a"/>
<circle cx="536.48" cy="55.9" r="1.3" fill="#5a2a6a"/>
<circle cx="556.98" cy="57.3" r="1.2" fill="#7a4a8a"/>
<circle cx="533.13" cy="58.8" r="1.3" fill="#5a2a6a"/>
<circle cx="553.63" cy="60.2" r="1.2" fill="#7a4a8a"/>
<circle cx="529.77" cy="61.7" r="1.3" fill="#5a2a6a"/>
<circle cx="550.27" cy="63.1" r="1.2" fill="#7a4a8a"/>
<circle cx="526.42" cy="64.6" r="1.3" fill="#5a2a6a"/>
<circle cx="546.92" cy="66" r="1.2" fill="#7a4a8a"/>
<circle cx="523.07" cy="67.5" r="1.3" fill="#5a2a6a"/>
<circle cx="543.57" cy="68.9" r="1.2" fill="#7a4a8a"/>
<circle cx="519.72" cy="70.4" r="1.3" fill="#5a2a6a"/>
<circle cx="540.22" cy="71.8" r="1.2" fill="#7a4a8a"/>
<circle cx="516.37" cy="73.3" r="1.3" fill="#5a2a6a"/>
<circle cx="536.87" cy="74.7" r="1.2" fill="#7a4a8a"/>
<circle cx="513.01" cy="76.2" r="1.3" fill="#5a2a6a"/>
<circle cx="533.51" cy="77.6" r="1.2" fill="#7a4a8a"/>
<circle cx="509.66" cy="79.1" r="1.3" fill="#5a2a6a"/>
<circle cx="530.16" cy="80.5" r="1.2" fill="#7a4a8a"/>
<circle cx="506.31" cy="82" r="1.3" fill="#5a2a6a"/>
<circle cx="526.81" cy="83.4" r="1.2" fill="#7a4a8a"/>
<circle cx="502.96" cy="84.9" r="1.3" fill="#5a2a6a"/>
<circle cx="523.46" cy="86.3" r="1.2" fill="#7a4a8a"/>
<circle cx="499.6" cy="87.8" r="1.3" fill="#5a2a6a"/>
<circle cx="520.1" cy="89.2" r="1.2" fill="#7a4a8a"/>
<circle cx="496.25" cy="90.7" r="1.3" fill="#5a2a6a"/>
<circle cx="516.75" cy="92.1" r="1.2" fill="#7a4a8a"/>
<circle cx="492.9" cy="93.6" r="1.3" fill="#5a2a6a"/>
<circle cx="513.4" cy="95" r="1.2" fill="#7a4a8a"/>
<circle cx="489.55" cy="96.5" r="1.3" fill="#5a2a6a"/>
<circle cx="510.05" cy="97.9" r="1.2" fill="#7a4a8a"/>
<circle cx="486.19" cy="99.4" r="1.3" fill="#5a2a6a"/>
<circle cx="506.69" cy="100.8" r="1.2" fill="#7a4a8a"/>
<circle cx="482.84" cy="102.3" r="1.3" fill="#5a2a6a"/>
<circle cx="503.34" cy="103.7" r="1.2" fill="#7a4a8a"/>
<circle cx="479.49" cy="105.2" r="1.3" fill="#5a2a6a"/>
<circle cx="499.99" cy="106.6" r="1.2" fill="#7a4a8a"/>
<circle cx="476.14" cy="108.1" r="1.3" fill="#5a2a6a"/>
<circle cx="496.64" cy="109.5" r="1.2" fill="#7a4a8a"/>
<circle cx="472.78" cy="111" r="1.3" fill="#5a2a6a"/>
<circle cx="493.28" cy="112.4" r="1.2" fill="#7a4a8a"/>
<circle cx="469.43" cy="113.9" r="1.3" fill="#5a2a6a"/>
<circle cx="489.93" cy="115.3" r="1.2" fill="#7a4a8a"/>
<circle cx="466.08" cy="116.8" r="1.3" fill="#5a2a6a"/>
<circle cx="486.58" cy="118.2" r="1.2" fill="#7a4a8a"/>
<circle cx="462.73" cy="119.7" r="1.3" fill="#5a2a6a"/>
<circle cx="483.23" cy="121.1" r="1.2" fill="#7a4a8a"/>
<circle cx="459.37" cy="122.6" r="1.3" fill="#5a2a6a"/>
<circle cx="479.87" cy="124" r="1.2" fill="#7a4a8a"/>
<circle cx="456.02" cy="125.5" r="1.3" fill="#5a2a6a"/>
<circle cx="476.52" cy="126.9" r="1.2" fill="#7a4a8a"/>
<circle cx="452.67" cy="128.4" r="1.3" fill="#5a2a6a"/>
<circle cx="473.17" cy="129.8" r="1.2" fill="#7a4a8a"/>
<circle cx="449.32" cy="131.3" r="1.3" fill="#5a2a6a"/>
<circle cx="469.82" cy="132.7" r="1.2" fill="#7a4a8a"/>
<circle cx="445.96" cy="134.2" r="1.3" fill="#5a2a6a"/>
<circle cx="466.46" cy="135.6" r="1.2" fill="#7a4a8a"/>
<circle cx="442.61" cy="137.1" r="1.3" fill="#5a2a6a"/>
<circle cx="463.11" cy="138.5" r="1.2" fill="#7a4a8a"/>
<circle cx="439.26" cy="140" r="1.3" fill="#5a2a6a"/>
<circle cx="459.76" cy="141.4" r="1.2" fill="#7a4a8a"/>
<circle cx="435.91" cy="142.9" r="1.3" fill="#5a2a6a"/>
<circle cx="456.41" cy="144.3" r="1.2" fill="#7a4a8a"/>
<circle cx="432.56" cy="145.8" r="1.3" fill="#5a2a6a"/>
<circle cx="453.06" cy="147.2" r="1.2" fill="#7a4a8a"/>
<circle cx="429.2" cy="148.7" r="1.3" fill="#5a2a6a"/>
<circle cx="449.7" cy="150.1" r="1.2" fill="#7a4a8a"/>
<circle cx="425.85" cy="151.6" r="1.3" fill="#5a2a6a"/>
<circle cx="446.35" cy="153" r="1.2" fill="#7a4a8a"/>
<circle cx="422.5" cy="154.5" r="1.3" fill="#5a2a6a"/>
<circle cx="443" cy="155.9" r="1.2" fill="#7a4a8a"/>
<circle cx="419.15" cy="157.4" r="1.3" fill="#5a2a6a"/>
<circle cx="439.65" cy="158.8" r="1.2" fill="#7a4a8a"/>
<circle cx="415.79" cy="160.3" r="1.3" fill="#5a2a6a"/>
<circle cx="436.29" cy="161.7" r="1.2" fill="#7a4a8a"/>
<circle cx="412.44" cy="163.2" r="1.3" fill="#5a2a6a"/>
<circle cx="432.94" cy="164.6" r="1.2" fill="#7a4a8a"/>
<circle cx="409.09" cy="166.1" r="1.3" fill="#5a2a6a"/>
<circle cx="429.59" cy="167.5" r="1.2" fill="#7a4a8a"/>
<circle cx="405.74" cy="169" r="1.3" fill="#5a2a6a"/>
<circle cx="426.24" cy="170.4" r="1.2" fill="#7a4a8a"/>
<circle cx="402.38" cy="171.9" r="1.3" fill="#5a2a6a"/>
<circle cx="422.88" cy="173.3" r="1.2" fill="#7a4a8a"/>
<circle cx="399.03" cy="174.8" r="1.3" fill="#5a2a6a"/>
<circle cx="419.53" cy="176.2" r="1.2" fill="#7a4a8a"/>
<circle cx="395.68" cy="177.7" r="1.3" fill="#5a2a6a"/>
<circle cx="416.18" cy="179.1" r="1.2" fill="#7a4a8a"/>
<circle cx="392.33" cy="180.6" r="1.3" fill="#5a2a6a"/>
<circle cx="412.83" cy="182" r="1.2" fill="#7a4a8a"/>
<circle cx="388.97" cy="183.5" r="1.3" fill="#5a2a6a"/>
<circle cx="409.47" cy="184.9" r="1.2" fill="#7a4a8a"/>
<circle cx="385.62" cy="186.4" r="1.3" fill="#5a2a6a"/>
<circle cx="406.12" cy="187.8" r="1.2" fill="#7a4a8a"/>
<circle cx="382.27" cy="189.3" r="1.3" fill="#5a2a6a"/>
<circle cx="402.77" cy="190.7" r="1.2" fill="#7a4a8a"/>
<circle cx="378.92" cy="192.2" r="1.3" fill="#5a2a6a"/>
<circle cx="399.42" cy="193.6" r="1.2" fill="#7a4a8a"/>
<circle cx="375.56" cy="195.1" r="1.3" fill="#5a2a6a"/>
<circle cx="396.06" cy="196.5" r="1.2" fill="#7a4a8a"/>
<circle cx="372.21" cy="198" r="1.3" fill="#5a2a6a"/>
<circle cx="392.71" cy="199.4" r="1.2" fill="#7a4a8a"/>
<circle cx="368.86" cy="200.9" r="1.3" fill="#5a2a6a"/>
<circle cx="389.36" cy="202.3" r="1.2" fill="#7a4a8a"/>
<circle cx="365.51" cy="203.8" r="1.3" fill="#5a2a6a"/>
<circle cx="386.01" cy="205.2" r="1.2" fill="#7a4a8a"/>
<circle cx="362.15" cy="206.7" r="1.3" fill="#5a2a6a"/>
<circle cx="382.65" cy="208.1" r="1.2" fill="#7a4a8a"/>
<circle cx="358.8" cy="209.6" r="1.3" fill="#5a2a6a"/>
<circle cx="379.3" cy="211" r="1.2" fill="#7a4a8a"/>
<circle cx="355.45" cy="212.5" r="1.3" fill="#5a2a6a"/>
<circle cx="375.95" cy="213.9" r="1.2" fill="#7a4a8a"/>
<circle cx="352.1" cy="215.4" r="1.3" fill="#5a2a6a"/>
<circle cx="372.6" cy="216.8" r="1.2" fill="#7a4a8a"/>
<circle cx="348.75" cy="218.3" r="1.3" fill="#5a2a6a"/>
<circle cx="369.25" cy="219.7" r="1.2" fill="#7a4a8a"/>
<circle cx="345.39" cy="221.2" r="1.3" fill="#5a2a6a"/>
<circle cx="365.89" cy="222.6" r="1.2" fill="#7a4a8a"/>
<circle cx="342.04" cy="224.1" r="1.3" fill="#5a2a6a"/>
<circle cx="362.54" cy="225.5" r="1.2" fill="#7a4a8a"/>
<polygon points="480,222 595,169.2 595,179.8 498,222" fill="url(#bt)"/>
<circle cx="488" cy="218.93" r="1.2" fill="#5a2a6a"/>
<circle cx="489.5" cy="225.2" r="1.1" fill="#7a4a8a"/>
<circle cx="491" cy="217.55" r="1.2" fill="#5a2a6a"/>
<circle cx="492.5" cy="223.89" r="1.1" fill="#7a4a8a"/>
<circle cx="494" cy="216.17" r="1.2" fill="#5a2a6a"/>
<circle cx="495.5" cy="222.59" r="1.1" fill="#7a4a8a"/>
<circle cx="497" cy="214.8" r="1.2" fill="#5a2a6a"/>
<circle cx="498.5" cy="221.28" r="1.1" fill="#7a4a8a"/>
<circle cx="500" cy="213.42" r="1.2" fill="#5a2a6a"/>
<circle cx="501.5" cy="219.98" r="1.1" fill="#7a4a8a"/>
<circle cx="503" cy="212.04" r="1.2" fill="#5a2a6a"/>
<circle cx="504.5" cy="218.67" r="1.1" fill="#7a4a8a"/>
<circle cx="506" cy="210.67" r="1.2" fill="#5a2a6a"/>
<circle cx="507.5" cy="217.37" r="1.1" fill="#7a4a8a"/>
<circle cx="509" cy="209.29" r="1.2" fill="#5a2a6a"/>
<circle cx="510.5" cy="216.06" r="1.1" fill="#7a4a8a"/>
<circle cx="512" cy="207.91" r="1.2" fill="#5a2a6a"/>
<circle cx="513.5" cy="214.76" r="1.1" fill="#7a4a8a"/>
<circle cx="515" cy="206.53" r="1.2" fill="#5a2a6a"/>
<circle cx="516.5" cy="213.45" r="1.1" fill="#7a4a8a"/>
<circle cx="518" cy="205.16" r="1.2" fill="#5a2a6a"/>
<circle cx="519.5" cy="212.15" r="1.1" fill="#7a4a8a"/>
<circle cx="521" cy="203.78" r="1.2" fill="#5a2a6a"/>
<circle cx="522.5" cy="210.84" r="1.1" fill="#7a4a8a"/>
<circle cx="524" cy="202.4" r="1.2" fill="#5a2a6a"/>
<circle cx="525.5" cy="209.54" r="1.1" fill="#7a4a8a"/>
<circle cx="527" cy="201.03" r="1.2" fill="#5a2a6a"/>
<circle cx="528.5" cy="208.23" r="1.1" fill="#7a4a8a"/>
<circle cx="530" cy="199.65" r="1.2" fill="#5a2a6a"/>
<circle cx="531.5" cy="206.93" r="1.1" fill="#7a4a8a"/>
<circle cx="533" cy="198.27" r="1.2" fill="#5a2a6a"/>
<circle cx="534.5" cy="205.62" r="1.1" fill="#7a4a8a"/>
<circle cx="536" cy="196.9" r="1.2" fill="#5a2a6a"/>
<circle cx="537.5" cy="204.32" r="1.1" fill="#7a4a8a"/>
<circle cx="539" cy="195.52" r="1.2" fill="#5a2a6a"/>
<circle cx="540.5" cy="203.01" r="1.1" fill="#7a4a8a"/>
<circle cx="542" cy="194.14" r="1.2" fill="#5a2a6a"/>
<circle cx="543.5" cy="201.71" r="1.1" fill="#7a4a8a"/>
<circle cx="545" cy="192.76" r="1.2" fill="#5a2a6a"/>
<circle cx="546.5" cy="200.4" r="1.1" fill="#7a4a8a"/>
<circle cx="548" cy="191.39" r="1.2" fill="#5a2a6a"/>
<circle cx="549.5" cy="199.1" r="1.1" fill="#7a4a8a"/>
<circle cx="551" cy="190.01" r="1.2" fill="#5a2a6a"/>
<circle cx="552.5" cy="197.79" r="1.1" fill="#7a4a8a"/>
<circle cx="554" cy="188.63" r="1.2" fill="#5a2a6a"/>
<circle cx="555.5" cy="196.49" r="1.1" fill="#7a4a8a"/>
<circle cx="557" cy="187.26" r="1.2" fill="#5a2a6a"/>
<circle cx="558.5" cy="195.18" r="1.1" fill="#7a4a8a"/>
<circle cx="560" cy="185.88" r="1.2" fill="#5a2a6a"/>
<circle cx="561.5" cy="193.88" r="1.1" fill="#7a4a8a"/>
<circle cx="563" cy="184.5" r="1.2" fill="#5a2a6a"/>
<circle cx="564.5" cy="192.57" r="1.1" fill="#7a4a8a"/>
<circle cx="566" cy="183.13" r="1.2" fill="#5a2a6a"/>
<circle cx="567.5" cy="191.27" r="1.1" fill="#7a4a8a"/>
<circle cx="569" cy="181.75" r="1.2" fill="#5a2a6a"/>
<circle cx="570.5" cy="189.96" r="1.1" fill="#7a4a8a"/>
<circle cx="572" cy="180.37" r="1.2" fill="#5a2a6a"/>
<circle cx="573.5" cy="188.66" r="1.1" fill="#7a4a8a"/>
<circle cx="575" cy="178.99" r="1.2" fill="#5a2a6a"/>
<circle cx="576.5" cy="187.35" r="1.1" fill="#7a4a8a"/>
<circle cx="578" cy="177.62" r="1.2" fill="#5a2a6a"/>
<circle cx="579.5" cy="186.05" r="1.1" fill="#7a4a8a"/>
<circle cx="581" cy="176.24" r="1.2" fill="#5a2a6a"/>
<circle cx="582.5" cy="184.74" r="1.1" fill="#7a4a8a"/>
<circle cx="584" cy="174.86" r="1.2" fill="#5a2a6a"/>
<circle cx="585.5" cy="183.44" r="1.1" fill="#7a4a8a"/>
<circle cx="587" cy="173.49" r="1.2" fill="#5a2a6a"/>
<circle cx="588.5" cy="182.13" r="1.1" fill="#7a4a8a"/>
<circle cx="590" cy="172.11" r="1.2" fill="#5a2a6a"/>
<circle cx="591.5" cy="180.83" r="1.1" fill="#7a4a8a"/>
<circle cx="593" cy="170.73" r="1.2" fill="#5a2a6a"/>
<circle cx="594.5" cy="179.52" r="1.1" fill="#7a4a8a"/>
</g>
<polyline points="360.5,86.8 362,83 363.4,79.1 366,77.5 369.8,75.9 369.8,70.1 372,67.5 374,63 377,59.5 379,55 382,49.6 382,47.6 385,45 387,41 390,37.5 392.9,33.5 392.9,28.4 396.1,25.8" fill="none" stroke="#2a2a2a" stroke-width="0.8"/>
<polyline points="399,27.5 398,33 406,25" fill="none" stroke="#2a2a2a" stroke-width="0.8"/>
<polyline points="396,35 396,38" fill="none" stroke="#2a2a2a" stroke-width="0.9"/>
<polygon points="387,51 390,46 394,42.5 393.5,45 390,48.5 387,51" fill="none" stroke="#2a2a2a" stroke-width="0.7"/>
<polygon points="377,102.3 380,98 384.7,99 380.7,103.4" fill="none" stroke="#2a2a2a" stroke-width="0.7"/>
<polygon points="362,104 364,103 366,104.5 364,106" fill="none" stroke="#2a2a2a" stroke-width="0.7"/>
<polyline points="360.5,106 362,108 365,112 369,114 370,117 371,120 370,121 360.5,121" fill="none" stroke="#2a2a2a" stroke-width="0.7"/>
<polyline points="368,113 370,111 374,110 378,112 379,115 381,113 384,111 381,109 376,108.5 370,110" fill="none" stroke="#2a2a2a" stroke-width="0.7"/>
<polyline points="360.5,144 365.2,146.4 362.8,148.75 360.5,148" fill="none" stroke="#2a2a2a" stroke-width="0.7"/>
<polyline points="360.5,155 366,156.6 369.8,158.9 371.4,162.8 368.3,165.2 370.6,168.3 368.3,172.2 370,177 366,181 369,184 372,187 368,190 372,193 369,197 373,200 370,203 374,206" fill="none" stroke="#2a2a2a" stroke-width="0.7"/>
<polyline points="360.5,166 364,167 366,171 364,174 360.5,174" fill="none" stroke="#2a2a2a" stroke-width="0.7"/>
<circle cx="372.2" cy="132.3" r="0.7" fill="#444"/>
<circle cx="365" cy="166" r="0.6" fill="#444"/>
<circle cx="529" cy="24.8" r="0.7" fill="#555"/>
<line x1="360.0" y1="24.5" x2="360.0" y2="219.5" stroke="#222" stroke-width="1.1"/>
<line x1="360.0" y1="219.5" x2="590.5" y2="219.5" stroke="#222" stroke-width="1.1"/>
<line x1="357.5" y1="219.52" x2="361.5" y2="219.52" stroke="#222" stroke-width="1"/>
<line x1="357.5" y1="214.38" x2="361.5" y2="214.38" stroke="#222" stroke-width="1"/>
<line x1="357.5" y1="209.25" x2="361.5" y2="209.25" stroke="#222" stroke-width="1"/>
<line x1="354.5" y1="204.12" x2="361" y2="204.12" stroke="#222" stroke-width="1"/>
<line x1="357.5" y1="198.99" x2="361.5" y2="198.99" stroke="#222" stroke-width="1"/>
<line x1="357.5" y1="193.86" x2="361.5" y2="193.86" stroke="#222" stroke-width="1"/>
<line x1="357.5" y1="188.72" x2="361.5" y2="188.72" stroke="#222" stroke-width="1"/>
<line x1="357.5" y1="183.59" x2="361.5" y2="183.59" stroke="#222" stroke-width="1"/>
<line x1="354.5" y1="178.46" x2="361" y2="178.46" stroke="#222" stroke-width="1"/>
<line x1="357.5" y1="173.33" x2="361.5" y2="173.33" stroke="#222" stroke-width="1"/>
<line x1="357.5" y1="168.2" x2="361.5" y2="168.2" stroke="#222" stroke-width="1"/>
<line x1="357.5" y1="163.06" x2="361.5" y2="163.06" stroke="#222" stroke-width="1"/>
<line x1="357.5" y1="157.93" x2="361.5" y2="157.93" stroke="#222" stroke-width="1"/>
<line x1="354.5" y1="152.8" x2="361" y2="152.8" stroke="#222" stroke-width="1"/>
<line x1="357.5" y1="147.67" x2="361.5" y2="147.67" stroke="#222" stroke-width="1"/>
<line x1="357.5" y1="142.54" x2="361.5" y2="142.54" stroke="#222" stroke-width="1"/>
<line x1="357.5" y1="137.4" x2="361.5" y2="137.4" stroke="#222" stroke-width="1"/>
<line x1="357.5" y1="132.27" x2="361.5" y2="132.27" stroke="#222" stroke-width="1"/>
<line x1="354.5" y1="127.14" x2="361" y2="127.14" stroke="#222" stroke-width="1"/>
<line x1="357.5" y1="122.01" x2="361.5" y2="122.01" stroke="#222" stroke-width="1"/>
<line x1="357.5" y1="116.88" x2="361.5" y2="116.88" stroke="#222" stroke-width="1"/>
<line x1="357.5" y1="111.74" x2="361.5" y2="111.74" stroke="#222" stroke-width="1"/>
<line x1="357.5" y1="106.61" x2="361.5" y2="106.61" stroke="#222" stroke-width="1"/>
<line x1="354.5" y1="101.48" x2="361" y2="101.48" stroke="#222" stroke-width="1"/>
<line x1="357.5" y1="96.35" x2="361.5" y2="96.35" stroke="#222" stroke-width="1"/>
<line x1="357.5" y1="91.22" x2="361.5" y2="91.22" stroke="#222" stroke-width="1"/>
<line x1="357.5" y1="86.08" x2="361.5" y2="86.08" stroke="#222" stroke-width="1"/>
<line x1="357.5" y1="80.95" x2="361.5" y2="80.95" stroke="#222" stroke-width="1"/>
<line x1="354.5" y1="75.82" x2="361" y2="75.82" stroke="#222" stroke-width="1"/>
<line x1="357.5" y1="70.69" x2="361.5" y2="70.69" stroke="#222" stroke-width="1"/>
<line x1="357.5" y1="65.56" x2="361.5" y2="65.56" stroke="#222" stroke-width="1"/>
<line x1="357.5" y1="60.42" x2="361.5" y2="60.42" stroke="#222" stroke-width="1"/>
<line x1="357.5" y1="55.29" x2="361.5" y2="55.29" stroke="#222" stroke-width="1"/>
<line x1="354.5" y1="50.16" x2="361" y2="50.16" stroke="#222" stroke-width="1"/>
<line x1="357.5" y1="45.03" x2="361.5" y2="45.03" stroke="#222" stroke-width="1"/>
<line x1="357.5" y1="39.9" x2="361.5" y2="39.9" stroke="#222" stroke-width="1"/>
<line x1="357.5" y1="34.76" x2="361.5" y2="34.76" stroke="#222" stroke-width="1"/>
<line x1="357.5" y1="29.63" x2="361.5" y2="29.63" stroke="#222" stroke-width="1"/>
<line x1="354.5" y1="24.5" x2="361" y2="24.5" stroke="#222" stroke-width="1"/>
<text x="352.8" y="207.42" class="tr" text-anchor="end">250</text>
<text x="352.8" y="181.76" class="tr" text-anchor="end">300</text>
<text x="352.8" y="156.1" class="tr" text-anchor="end">350</text>
<text x="352.8" y="130.44" class="tr" text-anchor="end">400</text>
<text x="352.8" y="104.78" class="tr" text-anchor="end">450</text>
<text x="352.8" y="79.12" class="tr" text-anchor="end">500</text>
<text x="352.8" y="53.46" class="tr" text-anchor="end">550</text>
<text x="352.8" y="27.8" class="tr" text-anchor="end">600</text>
<line x1="361.38" y1="219.5" x2="361.38" y2="223" stroke="#222" stroke-width="1"/>
<line x1="367.25" y1="219.5" x2="367.25" y2="223" stroke="#222" stroke-width="1"/>
<line x1="373.12" y1="219.5" x2="373.12" y2="223" stroke="#222" stroke-width="1"/>
<line x1="379" y1="219.5" x2="379" y2="223" stroke="#222" stroke-width="1"/>
<line x1="384.88" y1="219.5" x2="384.88" y2="223" stroke="#222" stroke-width="1"/>
<line x1="390.75" y1="219.5" x2="390.75" y2="223" stroke="#222" stroke-width="1"/>
<line x1="396.62" y1="219.5" x2="396.62" y2="223" stroke="#222" stroke-width="1"/>
<line x1="402.5" y1="219.5" x2="402.5" y2="226" stroke="#222" stroke-width="1"/>
<line x1="408.38" y1="219.5" x2="408.38" y2="223" stroke="#222" stroke-width="1"/>
<line x1="414.25" y1="219.5" x2="414.25" y2="223" stroke="#222" stroke-width="1"/>
<line x1="420.12" y1="219.5" x2="420.12" y2="223" stroke="#222" stroke-width="1"/>
<line x1="426" y1="219.5" x2="426" y2="223" stroke="#222" stroke-width="1"/>
<line x1="431.88" y1="219.5" x2="431.88" y2="223" stroke="#222" stroke-width="1"/>
<line x1="437.75" y1="219.5" x2="437.75" y2="223" stroke="#222" stroke-width="1"/>
<line x1="443.62" y1="219.5" x2="443.62" y2="223" stroke="#222" stroke-width="1"/>
<line x1="449.5" y1="219.5" x2="449.5" y2="223" stroke="#222" stroke-width="1"/>
<line x1="455.38" y1="219.5" x2="455.38" y2="223" stroke="#222" stroke-width="1"/>
<line x1="461.25" y1="219.5" x2="461.25" y2="226" stroke="#222" stroke-width="1"/>
<line x1="467.12" y1="219.5" x2="467.12" y2="223" stroke="#222" stroke-width="1"/>
<line x1="473" y1="219.5" x2="473" y2="223" stroke="#222" stroke-width="1"/>
<line x1="478.88" y1="219.5" x2="478.88" y2="223" stroke="#222" stroke-width="1"/>
<line x1="484.75" y1="219.5" x2="484.75" y2="223" stroke="#222" stroke-width="1"/>
<line x1="490.62" y1="219.5" x2="490.62" y2="223" stroke="#222" stroke-width="1"/>
<line x1="496.5" y1="219.5" x2="496.5" y2="223" stroke="#222" stroke-width="1"/>
<line x1="502.38" y1="219.5" x2="502.38" y2="223" stroke="#222" stroke-width="1"/>
<line x1="508.25" y1="219.5" x2="508.25" y2="223" stroke="#222" stroke-width="1"/>
<line x1="514.12" y1="219.5" x2="514.12" y2="223" stroke="#222" stroke-width="1"/>
<line x1="520" y1="219.5" x2="520" y2="226" stroke="#222" stroke-width="1"/>
<line x1="525.88" y1="219.5" x2="525.88" y2="223" stroke="#222" stroke-width="1"/>
<line x1="531.75" y1="219.5" x2="531.75" y2="223" stroke="#222" stroke-width="1"/>
<line x1="537.62" y1="219.5" x2="537.62" y2="223" stroke="#222" stroke-width="1"/>
<line x1="543.5" y1="219.5" x2="543.5" y2="223" stroke="#222" stroke-width="1"/>
<line x1="549.38" y1="219.5" x2="549.38" y2="223" stroke="#222" stroke-width="1"/>
<line x1="555.25" y1="219.5" x2="555.25" y2="223" stroke="#222" stroke-width="1"/>
<line x1="561.12" y1="219.5" x2="561.12" y2="223" stroke="#222" stroke-width="1"/>
<line x1="567" y1="219.5" x2="567" y2="223" stroke="#222" stroke-width="1"/>
<line x1="572.88" y1="219.5" x2="572.88" y2="223" stroke="#222" stroke-width="1"/>
<line x1="578.75" y1="219.5" x2="578.75" y2="226" stroke="#222" stroke-width="1"/>
<line x1="584.62" y1="219.5" x2="584.62" y2="223" stroke="#222" stroke-width="1"/>
<line x1="590.5" y1="219.5" x2="590.5" y2="223" stroke="#222" stroke-width="1"/>
<text x="402.5" y="234.5" class="tr" text-anchor="middle">300</text>
<text x="461.25" y="234.5" class="tr" text-anchor="middle">400</text>
<text x="520" y="234.5" class="tr" text-anchor="middle">500</text>
<text x="578.75" y="234.5" class="tr" text-anchor="middle">600</text>
<text x="486" y="250.9" class="tr" text-anchor="middle" style="font-size:8.6px">EM(nm)</text>
<text x="325.7" y="121" class="tr" text-anchor="middle">EX</text>
<text x="325" y="130.5" class="tr" text-anchor="middle">(nm)</text>
<text x="486" y="22" class="tr" text-anchor="middle" style="font-size:8.5px;font-weight:bold;fill:#444">1</text>
<clipPath id="rc1"><rect x="360.0" y="281" width="230.5" height="195"/></clipPath>
<g clip-path="url(#rc1)">
<polyline points="463,401.2 482,389.5 502,383.5 497.4,391.8 510.3,398.8 515,410.5 517.3,427 526.7,436.3 535,447" fill="none" stroke="#444" stroke-width="0.8"/>
<polyline points="447,415.2 477.5,398.8 470.5,407 486.9,415.2 498.6,424.6 510.3,443.3 510.3,459.7" fill="none" stroke="#3a4a9a" stroke-width="0.8"/>
<polyline points="454,412.9 463.4,409.4 461,420 475.2,424.6 489.2,436.3 493.9,443.3 486.9,459.7 490,468.5" fill="none" stroke="#a04050" stroke-width="0.8"/>
<polyline points="458,424.5 472.8,434 479.8,443.3 477.5,457.4 479.8,464.4 478,472.5" fill="none" stroke="#444" stroke-width="0.8"/>
<polyline points="452,420.5 466,428.5 472,442.5 470,454.5 480,461.5 497,468.5" fill="none" stroke="#3a8a3a" stroke-width="0.8"/>
<polyline points="424,427.5 434,423.5 444,427 450,434.5 452.5,442.5 450.5,451.5 446,458 456,462.5 463,469.5 472,476.5" fill="none" stroke="#7a3a8a" stroke-width="0.95"/>
<polyline points="425.82,426.32 435.91,422.77 445.64,426.59 451.45,434.32 454,442.5 451.91,451.59 447.45,457.77 457.45,462.05 465.09,468.77 474.45,475.68" fill="none" stroke="#3a8a3a" stroke-width="0.95"/>
<polyline points="427.64,425.14 437.82,422.05 447.27,426.18 452.91,434.14 455.5,442.5 453.32,451.68 448.91,457.55 458.91,461.59 467.18,468.05 476.91,474.86" fill="none" stroke="#a05070" stroke-width="0.95"/>
<polyline points="429.45,423.95 439.73,421.32 448.91,425.77 454.36,433.95 457,442.5 454.73,451.77 450.36,457.32 460.36,461.14 469.27,467.32 479.36,474.05" fill="none" stroke="#4a4aa0" stroke-width="0.95"/>
<polyline points="431.27,422.77 441.64,420.59 450.55,425.36 455.82,433.77 458.5,442.5 456.14,451.86 451.82,457.09 461.82,460.68 471.36,466.59 481.82,473.23" fill="none" stroke="#555555" stroke-width="0.95"/>
<polyline points="433.09,421.59 443.55,419.86 452.18,424.95 457.27,433.59 460,442.5 457.55,451.95 453.27,456.86 463.27,460.23 473.45,465.86 484.27,472.41" fill="none" stroke="#6a9a4a" stroke-width="0.95"/>
<polyline points="434.91,420.41 445.45,419.14 453.82,424.55 458.73,433.41 461.5,442.5 458.95,452.05 454.73,456.64 464.73,459.77 475.55,465.14 486.73,471.59" fill="none" stroke="#8a3a8a" stroke-width="0.95"/>
<polyline points="436.73,419.23 447.36,418.41 455.45,424.14 460.18,433.23 463,442.5 460.36,452.14 456.18,456.41 466.18,459.32 477.64,464.41 489.18,470.77" fill="none" stroke="#3a6a9a" stroke-width="0.95"/>
<polyline points="438.55,418.05 449.27,417.68 457.09,423.73 461.64,433.05 464.5,442.5 461.77,452.23 457.64,456.18 467.64,458.86 479.73,463.68 491.64,469.95" fill="none" stroke="#903050" stroke-width="0.95"/>
<polyline points="440.36,416.86 451.18,416.95 458.73,423.32 463.09,432.86 466,442.5 463.18,452.32 459.09,455.95 469.09,458.41 481.82,462.95 494.09,469.14" fill="none" stroke="#50a050" stroke-width="0.95"/>
<polyline points="442.18,415.68 453.09,416.23 460.36,422.91 464.55,432.68 467.5,442.5 464.59,452.41 460.55,455.73 470.55,457.95 483.91,462.23 496.55,468.32" fill="none" stroke="#7a5aa0" stroke-width="0.95"/>
<polyline points="444,414.5 455,415.5 462,422.5 466,432.5 469,442.5 466,452.5 462,455.5 472,457.5 486,461.5 499,467.5" fill="none" stroke="#444" stroke-width="0.95"/>
<polyline points="445,408.5 470,387.5 485,374.5" fill="none" stroke="#4a4aa0" stroke-width="0.7"/>
<polyline points="450,411.5 474,390.5 478,387.5" fill="none" stroke="#a05070" stroke-width="0.7"/>
<polyline points="366,474.5 380,468.5 392,461.5 398,464.5 402,476" fill="none" stroke="#3a3a8a" stroke-width="0.7"/>
<polyline points="372,475.5 386,469.5 396,466.5 399,476" fill="none" stroke="#555" stroke-width="0.7"/>
<polyline points="392,458.5 396,461.5 398,468.5 396,476" fill="none" stroke="#7a3a7a" stroke-width="0.7"/>
<ellipse cx="591" cy="448.5" rx="9" ry="12" fill="none" stroke="#7a5aa0" stroke-width="0.8"/>
<ellipse cx="591" cy="448.5" rx="6" ry="8" fill="none" stroke="#3a8a3a" stroke-width="0.8"/>
<ellipse cx="591" cy="448.5" rx="3.5" ry="5" fill="none" stroke="#333" stroke-width="0.9"/>
<polyline points="506,476 540,463.5 575,446.5 582,440.5" fill="none" stroke="#444" stroke-width="0.8"/>
<polyline points="560,476 570,469.5 576,466.5 583,472.5 590,475.5" fill="none" stroke="#444" stroke-width="0.8"/>
<polyline points="530,476 560,465.5 583,461.5 591,464.5" fill="none" stroke="#444" stroke-width="0.7"/>
<polygon points="384,459.5 395.5,454.5 398,446.5 400,436.5 410,430.5 420,426.5 432,425 443,428.5 448.7,436.5 451,444 449.5,451.5 444,457.5 434,460.5 415,459.5 404,457.5 397,457.5" fill="url(#bt)"/>
<polygon points="396,456.5 415,458 434,458.5 450,460.5 461,464.5 463,467.5 458,471.5 440,475 420,476.5 399,476.5 398,466.5" fill="url(#bt)"/>
<polygon points="404,455.5 400,446.5 405,436.5 416,429.5 430,427.5 442,430.5 448,437.5 450,444.5 448,451.5 442,456.5 430,459 415,458.5" fill="none" stroke="#b090d0" stroke-width="0.6"/>
<polygon points="407.84,453.74 404.48,446.18 408.68,437.78 417.92,431.9 429.68,430.22 439.76,432.74 444.8,438.62 446.48,444.5 444.8,450.38 439.76,454.58 429.68,456.68 417.08,456.26" fill="none" stroke="#70b070" stroke-width="0.6"/>
<polygon points="411.68,451.98 408.96,445.86 412.36,439.06 419.84,434.3 429.36,432.94 437.52,434.98 441.6,439.74 442.96,444.5 441.6,449.26 437.52,452.66 429.36,454.36 419.16,454.02" fill="none" stroke="#c07090" stroke-width="0.6"/>
<polygon points="415.52,450.22 413.44,445.54 416.04,440.34 421.76,436.7 429.04,435.66 435.28,437.22 438.4,440.86 439.44,444.5 438.4,448.14 435.28,450.74 429.04,452.04 421.24,451.78" fill="none" stroke="#9080d0" stroke-width="0.6"/>
<polygon points="419.36,448.46 417.92,445.22 419.72,441.62 423.68,439.1 428.72,438.38 433.04,439.46 435.2,441.98 435.92,444.5 435.2,447.02 433.04,448.82 428.72,449.72 423.32,449.54" fill="none" stroke="#b090d0" stroke-width="0.6"/>
<polygon points="423.2,446.7 422.4,444.9 423.4,442.9 425.6,441.5 428.4,441.1 430.8,441.7 432,443.1 432.4,444.5 432,445.9 430.8,446.9 428.4,447.4 425.4,447.3" fill="none" stroke="#80a0c0" stroke-width="0.6"/>
<polygon points="402,466.5 410,460.5 430,460 452,462.5 460,466.5 452,471.5 430,474.5 410,474.5" fill="none" stroke="#c07090" stroke-width="0.6"/>
<polygon points="407.72,466.72 413.96,462.04 429.56,461.65 446.72,463.6 452.96,466.72 446.72,470.62 429.56,472.96 413.96,472.96" fill="none" stroke="#9080d0" stroke-width="0.6"/>
<polygon points="413.44,466.94 417.92,463.58 429.12,463.3 441.44,464.7 445.92,466.94 441.44,469.74 429.12,471.42 417.92,471.42" fill="none" stroke="#b090d0" stroke-width="0.6"/>
<polygon points="419.16,467.16 421.88,465.12 428.68,464.95 436.16,465.8 438.88,467.16 436.16,468.86 428.68,469.88 421.88,469.88" fill="none" stroke="#80a0c0" stroke-width="0.6"/>
<ellipse cx="427" cy="467.5" rx="4" ry="1" fill="#ffffff" opacity="0.9"/>
<polygon points="577.38,276.5 598.88,276.5 365.37,478.5 343.87,478.5" fill="url(#bt)"/>
<circle cx="573.36" cy="280.5" r="1.3" fill="#5a2a6a"/>
<circle cx="593.86" cy="281.9" r="1.2" fill="#7a4a8a"/>
<circle cx="570" cy="283.4" r="1.3" fill="#5a2a6a"/>
<circle cx="590.5" cy="284.8" r="1.2" fill="#7a4a8a"/>
<circle cx="566.65" cy="286.3" r="1.3" fill="#5a2a6a"/>
<circle cx="587.15" cy="287.7" r="1.2" fill="#7a4a8a"/>
<circle cx="563.3" cy="289.2" r="1.3" fill="#5a2a6a"/>
<circle cx="583.8" cy="290.6" r="1.2" fill="#7a4a8a"/>
<circle cx="559.95" cy="292.1" r="1.3" fill="#5a2a6a"/>
<circle cx="580.45" cy="293.5" r="1.2" fill="#7a4a8a"/>
<circle cx="556.59" cy="295" r="1.3" fill="#5a2a6a"/>
<circle cx="577.09" cy="296.4" r="1.2" fill="#7a4a8a"/>
<circle cx="553.24" cy="297.9" r="1.3" fill="#5a2a6a"/>
<circle cx="573.74" cy="299.3" r="1.2" fill="#7a4a8a"/>
<circle cx="549.89" cy="300.8" r="1.3" fill="#5a2a6a"/>
<circle cx="570.39" cy="302.2" r="1.2" fill="#7a4a8a"/>
<circle cx="546.54" cy="303.7" r="1.3" fill="#5a2a6a"/>
<circle cx="567.04" cy="305.1" r="1.2" fill="#7a4a8a"/>
<circle cx="543.18" cy="306.6" r="1.3" fill="#5a2a6a"/>
<circle cx="563.68" cy="308" r="1.2" fill="#7a4a8a"/>
<circle cx="539.83" cy="309.5" r="1.3" fill="#5a2a6a"/>
<circle cx="560.33" cy="310.9" r="1.2" fill="#7a4a8a"/>
<circle cx="536.48" cy="312.4" r="1.3" fill="#5a2a6a"/>
<circle cx="556.98" cy="313.8" r="1.2" fill="#7a4a8a"/>
<circle cx="533.13" cy="315.3" r="1.3" fill="#5a2a6a"/>
<circle cx="553.63" cy="316.7" r="1.2" fill="#7a4a8a"/>
<circle cx="529.77" cy="318.2" r="1.3" fill="#5a2a6a"/>
<circle cx="550.27" cy="319.6" r="1.2" fill="#7a4a8a"/>
<circle cx="526.42" cy="321.1" r="1.3" fill="#5a2a6a"/>
<circle cx="546.92" cy="322.5" r="1.2" fill="#7a4a8a"/>
<circle cx="523.07" cy="324" r="1.3" fill="#5a2a6a"/>
<circle cx="543.57" cy="325.4" r="1.2" fill="#7a4a8a"/>
<circle cx="519.72" cy="326.9" r="1.3" fill="#5a2a6a"/>
<circle cx="540.22" cy="328.3" r="1.2" fill="#7a4a8a"/>
<circle cx="516.37" cy="329.8" r="1.3" fill="#5a2a6a"/>
<circle cx="536.87" cy="331.2" r="1.2" fill="#7a4a8a"/>
<circle cx="513.01" cy="332.7" r="1.3" fill="#5a2a6a"/>
<circle cx="533.51" cy="334.1" r="1.2" fill="#7a4a8a"/>
<circle cx="509.66" cy="335.6" r="1.3" fill="#5a2a6a"/>
<circle cx="530.16" cy="337" r="1.2" fill="#7a4a8a"/>
<circle cx="506.31" cy="338.5" r="1.3" fill="#5a2a6a"/>
<circle cx="526.81" cy="339.9" r="1.2" fill="#7a4a8a"/>
<circle cx="502.96" cy="341.4" r="1.3" fill="#5a2a6a"/>
<circle cx="523.46" cy="342.8" r="1.2" fill="#7a4a8a"/>
<circle cx="499.6" cy="344.3" r="1.3" fill="#5a2a6a"/>
<circle cx="520.1" cy="345.7" r="1.2" fill="#7a4a8a"/>
<circle cx="496.25" cy="347.2" r="1.3" fill="#5a2a6a"/>
<circle cx="516.75" cy="348.6" r="1.2" fill="#7a4a8a"/>
<circle cx="492.9" cy="350.1" r="1.3" fill="#5a2a6a"/>
<circle cx="513.4" cy="351.5" r="1.2" fill="#7a4a8a"/>
<circle cx="489.55" cy="353" r="1.3" fill="#5a2a6a"/>
<circle cx="510.05" cy="354.4" r="1.2" fill="#7a4a8a"/>
<circle cx="486.19" cy="355.9" r="1.3" fill="#5a2a6a"/>
<circle cx="506.69" cy="357.3" r="1.2" fill="#7a4a8a"/>
<circle cx="482.84" cy="358.8" r="1.3" fill="#5a2a6a"/>
<circle cx="503.34" cy="360.2" r="1.2" fill="#7a4a8a"/>
<circle cx="479.49" cy="361.7" r="1.3" fill="#5a2a6a"/>
<circle cx="499.99" cy="363.1" r="1.2" fill="#7a4a8a"/>
<circle cx="476.14" cy="364.6" r="1.3" fill="#5a2a6a"/>
<circle cx="496.64" cy="366" r="1.2" fill="#7a4a8a"/>
<circle cx="472.78" cy="367.5" r="1.3" fill="#5a2a6a"/>
<circle cx="493.28" cy="368.9" r="1.2" fill="#7a4a8a"/>
<circle cx="469.43" cy="370.4" r="1.3" fill="#5a2a6a"/>
<circle cx="489.93" cy="371.8" r="1.2" fill="#7a4a8a"/>
<circle cx="466.08" cy="373.3" r="1.3" fill="#5a2a6a"/>
<circle cx="486.58" cy="374.7" r="1.2" fill="#7a4a8a"/>
<circle cx="462.73" cy="376.2" r="1.3" fill="#5a2a6a"/>
<circle cx="483.23" cy="377.6" r="1.2" fill="#7a4a8a"/>
<circle cx="459.37" cy="379.1" r="1.3" fill="#5a2a6a"/>
<circle cx="479.87" cy="380.5" r="1.2" fill="#7a4a8a"/>
<circle cx="456.02" cy="382" r="1.3" fill="#5a2a6a"/>
<circle cx="476.52" cy="383.4" r="1.2" fill="#7a4a8a"/>
<circle cx="452.67" cy="384.9" r="1.3" fill="#5a2a6a"/>
<circle cx="473.17" cy="386.3" r="1.2" fill="#7a4a8a"/>
<circle cx="449.32" cy="387.8" r="1.3" fill="#5a2a6a"/>
<circle cx="469.82" cy="389.2" r="1.2" fill="#7a4a8a"/>
<circle cx="445.96" cy="390.7" r="1.3" fill="#5a2a6a"/>
<circle cx="466.46" cy="392.1" r="1.2" fill="#7a4a8a"/>
<circle cx="442.61" cy="393.6" r="1.3" fill="#5a2a6a"/>
<circle cx="463.11" cy="395" r="1.2" fill="#7a4a8a"/>
<circle cx="439.26" cy="396.5" r="1.3" fill="#5a2a6a"/>
<circle cx="459.76" cy="397.9" r="1.2" fill="#7a4a8a"/>
<circle cx="435.91" cy="399.4" r="1.3" fill="#5a2a6a"/>
<circle cx="456.41" cy="400.8" r="1.2" fill="#7a4a8a"/>
<circle cx="432.56" cy="402.3" r="1.3" fill="#5a2a6a"/>
<circle cx="453.06" cy="403.7" r="1.2" fill="#7a4a8a"/>
<circle cx="429.2" cy="405.2" r="1.3" fill="#5a2a6a"/>
<circle cx="449.7" cy="406.6" r="1.2" fill="#7a4a8a"/>
<circle cx="425.85" cy="408.1" r="1.3" fill="#5a2a6a"/>
<circle cx="446.35" cy="409.5" r="1.2" fill="#7a4a8a"/>
<circle cx="422.5" cy="411" r="1.3" fill="#5a2a6a"/>
<circle cx="443" cy="412.4" r="1.2" fill="#7a4a8a"/>
<circle cx="419.15" cy="413.9" r="1.3" fill="#5a2a6a"/>
<circle cx="439.65" cy="415.3" r="1.2" fill="#7a4a8a"/>
<circle cx="415.79" cy="416.8" r="1.3" fill="#5a2a6a"/>
<circle cx="436.29" cy="418.2" r="1.2" fill="#7a4a8a"/>
<circle cx="412.44" cy="419.7" r="1.3" fill="#5a2a6a"/>
<circle cx="432.94" cy="421.1" r="1.2" fill="#7a4a8a"/>
<circle cx="409.09" cy="422.6" r="1.3" fill="#5a2a6a"/>
<circle cx="429.59" cy="424" r="1.2" fill="#7a4a8a"/>
<circle cx="405.74" cy="425.5" r="1.3" fill="#5a2a6a"/>
<circle cx="426.24" cy="426.9" r="1.2" fill="#7a4a8a"/>
<circle cx="402.38" cy="428.4" r="1.3" fill="#5a2a6a"/>
<circle cx="422.88" cy="429.8" r="1.2" fill="#7a4a8a"/>
<circle cx="399.03" cy="431.3" r="1.3" fill="#5a2a6a"/>
<circle cx="419.53" cy="432.7" r="1.2" fill="#7a4a8a"/>
<circle cx="395.68" cy="434.2" r="1.3" fill="#5a2a6a"/>
<circle cx="416.18" cy="435.6" r="1.2" fill="#7a4a8a"/>
<circle cx="392.33" cy="437.1" r="1.3" fill="#5a2a6a"/>
<circle cx="412.83" cy="438.5" r="1.2" fill="#7a4a8a"/>
<circle cx="388.97" cy="440" r="1.3" fill="#5a2a6a"/>
<circle cx="409.47" cy="441.4" r="1.2" fill="#7a4a8a"/>
<circle cx="385.62" cy="442.9" r="1.3" fill="#5a2a6a"/>
<circle cx="406.12" cy="444.3" r="1.2" fill="#7a4a8a"/>
<circle cx="382.27" cy="445.8" r="1.3" fill="#5a2a6a"/>
<circle cx="402.77" cy="447.2" r="1.2" fill="#7a4a8a"/>
<circle cx="378.92" cy="448.7" r="1.3" fill="#5a2a6a"/>
<circle cx="399.42" cy="450.1" r="1.2" fill="#7a4a8a"/>
<circle cx="375.56" cy="451.6" r="1.3" fill="#5a2a6a"/>
<circle cx="396.06" cy="453" r="1.2" fill="#7a4a8a"/>
<circle cx="372.21" cy="454.5" r="1.3" fill="#5a2a6a"/>
<circle cx="392.71" cy="455.9" r="1.2" fill="#7a4a8a"/>
<circle cx="368.86" cy="457.4" r="1.3" fill="#5a2a6a"/>
<circle cx="389.36" cy="458.8" r="1.2" fill="#7a4a8a"/>
<circle cx="365.51" cy="460.3" r="1.3" fill="#5a2a6a"/>
<circle cx="386.01" cy="461.7" r="1.2" fill="#7a4a8a"/>
<circle cx="362.15" cy="463.2" r="1.3" fill="#5a2a6a"/>
<circle cx="382.65" cy="464.6" r="1.2" fill="#7a4a8a"/>
<circle cx="358.8" cy="466.1" r="1.3" fill="#5a2a6a"/>
<circle cx="379.3" cy="467.5" r="1.2" fill="#7a4a8a"/>
<circle cx="355.45" cy="469" r="1.3" fill="#5a2a6a"/>
<circle cx="375.95" cy="470.4" r="1.2" fill="#7a4a8a"/>
<circle cx="352.1" cy="471.9" r="1.3" fill="#5a2a6a"/>
<circle cx="372.6" cy="473.3" r="1.2" fill="#7a4a8a"/>
<circle cx="348.75" cy="474.8" r="1.3" fill="#5a2a6a"/>
<circle cx="369.25" cy="476.2" r="1.2" fill="#7a4a8a"/>
<circle cx="345.39" cy="477.7" r="1.3" fill="#5a2a6a"/>
<circle cx="365.89" cy="479.1" r="1.2" fill="#7a4a8a"/>
<circle cx="342.04" cy="480.6" r="1.3" fill="#5a2a6a"/>
<circle cx="362.54" cy="482" r="1.2" fill="#7a4a8a"/>
<polygon points="480,478.5 595,425.7 595,436.3 498,478.5" fill="url(#bt)"/>
<circle cx="488" cy="475.43" r="1.2" fill="#5a2a6a"/>
<circle cx="489.5" cy="481.7" r="1.1" fill="#7a4a8a"/>
<circle cx="491" cy="474.05" r="1.2" fill="#5a2a6a"/>
<circle cx="492.5" cy="480.39" r="1.1" fill="#7a4a8a"/>
<circle cx="494" cy="472.67" r="1.2" fill="#5a2a6a"/>
<circle cx="495.5" cy="479.09" r="1.1" fill="#7a4a8a"/>
<circle cx="497" cy="471.3" r="1.2" fill="#5a2a6a"/>
<circle cx="498.5" cy="477.78" r="1.1" fill="#7a4a8a"/>
<circle cx="500" cy="469.92" r="1.2" fill="#5a2a6a"/>
<circle cx="501.5" cy="476.48" r="1.1" fill="#7a4a8a"/>
<circle cx="503" cy="468.54" r="1.2" fill="#5a2a6a"/>
<circle cx="504.5" cy="475.17" r="1.1" fill="#7a4a8a"/>
<circle cx="506" cy="467.17" r="1.2" fill="#5a2a6a"/>
<circle cx="507.5" cy="473.87" r="1.1" fill="#7a4a8a"/>
<circle cx="509" cy="465.79" r="1.2" fill="#5a2a6a"/>
<circle cx="510.5" cy="472.56" r="1.1" fill="#7a4a8a"/>
<circle cx="512" cy="464.41" r="1.2" fill="#5a2a6a"/>
<circle cx="513.5" cy="471.26" r="1.1" fill="#7a4a8a"/>
<circle cx="515" cy="463.03" r="1.2" fill="#5a2a6a"/>
<circle cx="516.5" cy="469.95" r="1.1" fill="#7a4a8a"/>
<circle cx="518" cy="461.66" r="1.2" fill="#5a2a6a"/>
<circle cx="519.5" cy="468.65" r="1.1" fill="#7a4a8a"/>
<circle cx="521" cy="460.28" r="1.2" fill="#5a2a6a"/>
<circle cx="522.5" cy="467.34" r="1.1" fill="#7a4a8a"/>
<circle cx="524" cy="458.9" r="1.2" fill="#5a2a6a"/>
<circle cx="525.5" cy="466.04" r="1.1" fill="#7a4a8a"/>
<circle cx="527" cy="457.53" r="1.2" fill="#5a2a6a"/>
<circle cx="528.5" cy="464.73" r="1.1" fill="#7a4a8a"/>
<circle cx="530" cy="456.15" r="1.2" fill="#5a2a6a"/>
<circle cx="531.5" cy="463.43" r="1.1" fill="#7a4a8a"/>
<circle cx="533" cy="454.77" r="1.2" fill="#5a2a6a"/>
<circle cx="534.5" cy="462.12" r="1.1" fill="#7a4a8a"/>
<circle cx="536" cy="453.4" r="1.2" fill="#5a2a6a"/>
<circle cx="537.5" cy="460.82" r="1.1" fill="#7a4a8a"/>
<circle cx="539" cy="452.02" r="1.2" fill="#5a2a6a"/>
<circle cx="540.5" cy="459.51" r="1.1" fill="#7a4a8a"/>
<circle cx="542" cy="450.64" r="1.2" fill="#5a2a6a"/>
<circle cx="543.5" cy="458.21" r="1.1" fill="#7a4a8a"/>
<circle cx="545" cy="449.26" r="1.2" fill="#5a2a6a"/>
<circle cx="546.5" cy="456.9" r="1.1" fill="#7a4a8a"/>
<circle cx="548" cy="447.89" r="1.2" fill="#5a2a6a"/>
<circle cx="549.5" cy="455.6" r="1.1" fill="#7a4a8a"/>
<circle cx="551" cy="446.51" r="1.2" fill="#5a2a6a"/>
<circle cx="552.5" cy="454.29" r="1.1" fill="#7a4a8a"/>
<circle cx="554" cy="445.13" r="1.2" fill="#5a2a6a"/>
<circle cx="555.5" cy="452.99" r="1.1" fill="#7a4a8a"/>
<circle cx="557" cy="443.76" r="1.2" fill="#5a2a6a"/>
<circle cx="558.5" cy="451.68" r="1.1" fill="#7a4a8a"/>
<circle cx="560" cy="442.38" r="1.2" fill="#5a2a6a"/>
<circle cx="561.5" cy="450.38" r="1.1" fill="#7a4a8a"/>
<circle cx="563" cy="441" r="1.2" fill="#5a2a6a"/>
<circle cx="564.5" cy="449.07" r="1.1" fill="#7a4a8a"/>
<circle cx="566" cy="439.63" r="1.2" fill="#5a2a6a"/>
<circle cx="567.5" cy="447.77" r="1.1" fill="#7a4a8a"/>
<circle cx="569" cy="438.25" r="1.2" fill="#5a2a6a"/>
<circle cx="570.5" cy="446.46" r="1.1" fill="#7a4a8a"/>
<circle cx="572" cy="436.87" r="1.2" fill="#5a2a6a"/>
<circle cx="573.5" cy="445.16" r="1.1" fill="#7a4a8a"/>
<circle cx="575" cy="435.5" r="1.2" fill="#5a2a6a"/>
<circle cx="576.5" cy="443.85" r="1.1" fill="#7a4a8a"/>
<circle cx="578" cy="434.12" r="1.2" fill="#5a2a6a"/>
<circle cx="579.5" cy="442.55" r="1.1" fill="#7a4a8a"/>
<circle cx="581" cy="432.74" r="1.2" fill="#5a2a6a"/>
<circle cx="582.5" cy="441.24" r="1.1" fill="#7a4a8a"/>
<circle cx="584" cy="431.36" r="1.2" fill="#5a2a6a"/>
<circle cx="585.5" cy="439.94" r="1.1" fill="#7a4a8a"/>
<circle cx="587" cy="429.99" r="1.2" fill="#5a2a6a"/>
<circle cx="588.5" cy="438.63" r="1.1" fill="#7a4a8a"/>
<circle cx="590" cy="428.61" r="1.2" fill="#5a2a6a"/>
<circle cx="591.5" cy="437.33" r="1.1" fill="#7a4a8a"/>
<circle cx="593" cy="427.23" r="1.2" fill="#5a2a6a"/>
<circle cx="594.5" cy="436.02" r="1.1" fill="#7a4a8a"/>
</g>
<polyline points="360.8,342.3 363,338.5 366,335.5 370.4,332.1 370.4,326.3 373,323.5 375,319.5 378,315.5 380,312.5 382.6,310.2 382.6,305.1 385,302.5 388,298.5 391,294.5 394.2,289 394.2,283.9 397.4,280.6" fill="none" stroke="#2a2a2a" stroke-width="0.8"/>
<polyline points="400,287.7 406.4,280.6" fill="none" stroke="#2a2a2a" stroke-width="0.9"/>
<polyline points="401.3,284.5 404.5,283.2" fill="none" stroke="#2a2a2a" stroke-width="0.8"/>
<polyline points="387.6,307.1 389.2,305.5" fill="none" stroke="#2a2a2a" stroke-width="1"/>
<polyline points="390.2,303.9 391.8,302.3" fill="none" stroke="#2a2a2a" stroke-width="1"/>
<polyline points="393.4,299.4 395,297.8" fill="none" stroke="#2a2a2a" stroke-width="1"/>
<ellipse cx="394.8" cy="336" rx="1.6" ry="1.8" fill="none" stroke="#2a2a2a" stroke-width="0.7"/>
<ellipse cx="394.8" cy="340" rx="1.8" ry="2.2" fill="none" stroke="#2a2a2a" stroke-width="0.7"/>
<rect x="375.9" y="358.7" width="10.5" height="4.4" rx="2" fill="none" stroke="#2a2a2a" stroke-width="0.7"/>
<ellipse cx="371.2" cy="363.6" rx="2" ry="1.1" fill="none" stroke="#2a2a2a" stroke-width="0.7"/>
<ellipse cx="373.4" cy="368.6" rx="2" ry="1.6" fill="none" stroke="#2a2a2a" stroke-width="0.7"/>
<ellipse cx="383.6" cy="371.1" rx="2.8" ry="1.4" fill="none" stroke="#2a2a2a" stroke-width="0.7"/>
<polyline points="360.5,362.5 363.8,365.9 368.2,365.3 363.8,370.8 360.5,367.5" fill="none" stroke="#2a2a2a" stroke-width="0.7"/>
<polyline points="360.5,370.5 362.7,374.1 368.2,377.4 372.1,376.3 370.4,373 366,371.9 362,368.5" fill="none" stroke="#2a2a2a" stroke-width="0.7"/>
<circle cx="364" cy="389.5" r="0.8" fill="#444"/>
<circle cx="370" cy="387" r="0.8" fill="#444"/>
<circle cx="370.4" cy="394.5" r="0.8" fill="#444"/>
<circle cx="375.5" cy="390.5" r="0.8" fill="#444"/>
<circle cx="373" cy="399.5" r="0.8" fill="#444"/>
<ellipse cx="379.2" cy="395.1" rx="2.2" ry="2.2" fill="none" stroke="#2a2a2a" stroke-width="0.7"/>
<polygon points="363.6,406.5 366,403.5 369.5,403.3 371.4,406.5 369,410.3 365,410" fill="none" stroke="#2a2a2a" stroke-width="0.7"/>
<polygon points="363.6,413.5 366,413.4 368.2,415.5 366,417.3 363.6,416" fill="none" stroke="#2a2a2a" stroke-width="0.7"/>
<polygon points="362,429 365,422.8 367.5,423 365,428.5" fill="none" stroke="#2a2a2a" stroke-width="0.7"/>
<circle cx="370" cy="430.5" r="0.8" fill="#444"/>
<circle cx="370.5" cy="422" r="0.8" fill="#444"/>
<polyline points="360.5,442.2 366.7,443 369.8,448.5 369,451.5 371.4,454.7 374,456.5" fill="none" stroke="#2a2a2a" stroke-width="0.7"/>
<polygon points="528,283.5 531,281.5 534,282.5 532,285" fill="none" stroke="#2a2a2a" stroke-width="0.7"/>
<polygon points="538,283.5 541,281.5 544,283.5 540,285.5" fill="none" stroke="#2a2a2a" stroke-width="0.7"/>
<polygon points="545,284.5 549,282 552,283.5 548,286" fill="none" stroke="#2a2a2a" stroke-width="0.7"/>
<circle cx="523" cy="281.3" r="0.7" fill="#555"/>
<circle cx="520" cy="292.5" r="0.7" fill="#555"/>
<circle cx="565" cy="281.3" r="0.7" fill="#555"/>
<line x1="360.0" y1="281" x2="360.0" y2="476" stroke="#222" stroke-width="1.1"/>
<line x1="360.0" y1="476" x2="590.5" y2="476" stroke="#222" stroke-width="1.1"/>
<line x1="357.5" y1="476.02" x2="361.5" y2="476.02" stroke="#222" stroke-width="1"/>
<line x1="357.5" y1="470.88" x2="361.5" y2="470.88" stroke="#222" stroke-width="1"/>
<line x1="357.5" y1="465.75" x2="361.5" y2="465.75" stroke="#222" stroke-width="1"/>
<line x1="354.5" y1="460.62" x2="361" y2="460.62" stroke="#222" stroke-width="1"/>
<line x1="357.5" y1="455.49" x2="361.5" y2="455.49" stroke="#222" stroke-width="1"/>
<line x1="357.5" y1="450.36" x2="361.5" y2="450.36" stroke="#222" stroke-width="1"/>
<line x1="357.5" y1="445.22" x2="361.5" y2="445.22" stroke="#222" stroke-width="1"/>
<line x1="357.5" y1="440.09" x2="361.5" y2="440.09" stroke="#222" stroke-width="1"/>
<line x1="354.5" y1="434.96" x2="361" y2="434.96" stroke="#222" stroke-width="1"/>
<line x1="357.5" y1="429.83" x2="361.5" y2="429.83" stroke="#222" stroke-width="1"/>
<line x1="357.5" y1="424.7" x2="361.5" y2="424.7" stroke="#222" stroke-width="1"/>
<line x1="357.5" y1="419.56" x2="361.5" y2="419.56" stroke="#222" stroke-width="1"/>
<line x1="357.5" y1="414.43" x2="361.5" y2="414.43" stroke="#222" stroke-width="1"/>
<line x1="354.5" y1="409.3" x2="361" y2="409.3" stroke="#222" stroke-width="1"/>
<line x1="357.5" y1="404.17" x2="361.5" y2="404.17" stroke="#222" stroke-width="1"/>
<line x1="357.5" y1="399.04" x2="361.5" y2="399.04" stroke="#222" stroke-width="1"/>
<line x1="357.5" y1="393.9" x2="361.5" y2="393.9" stroke="#222" stroke-width="1"/>
<line x1="357.5" y1="388.77" x2="361.5" y2="388.77" stroke="#222" stroke-width="1"/>
<line x1="354.5" y1="383.64" x2="361" y2="383.64" stroke="#222" stroke-width="1"/>
<line x1="357.5" y1="378.51" x2="361.5" y2="378.51" stroke="#222" stroke-width="1"/>
<line x1="357.5" y1="373.38" x2="361.5" y2="373.38" stroke="#222" stroke-width="1"/>
<line x1="357.5" y1="368.24" x2="361.5" y2="368.24" stroke="#222" stroke-width="1"/>
<line x1="357.5" y1="363.11" x2="361.5" y2="363.11" stroke="#222" stroke-width="1"/>
<line x1="354.5" y1="357.98" x2="361" y2="357.98" stroke="#222" stroke-width="1"/>
<line x1="357.5" y1="352.85" x2="361.5" y2="352.85" stroke="#222" stroke-width="1"/>
<line x1="357.5" y1="347.72" x2="361.5" y2="347.72" stroke="#222" stroke-width="1"/>
<line x1="357.5" y1="342.58" x2="361.5" y2="342.58" stroke="#222" stroke-width="1"/>
<line x1="357.5" y1="337.45" x2="361.5" y2="337.45" stroke="#222" stroke-width="1"/>
<line x1="354.5" y1="332.32" x2="361" y2="332.32" stroke="#222" stroke-width="1"/>
<line x1="357.5" y1="327.19" x2="361.5" y2="327.19" stroke="#222" stroke-width="1"/>
<line x1="357.5" y1="322.06" x2="361.5" y2="322.06" stroke="#222" stroke-width="1"/>
<line x1="357.5" y1="316.92" x2="361.5" y2="316.92" stroke="#222" stroke-width="1"/>
<line x1="357.5" y1="311.79" x2="361.5" y2="311.79" stroke="#222" stroke-width="1"/>
<line x1="354.5" y1="306.66" x2="361" y2="306.66" stroke="#222" stroke-width="1"/>
<line x1="357.5" y1="301.53" x2="361.5" y2="301.53" stroke="#222" stroke-width="1"/>
<line x1="357.5" y1="296.4" x2="361.5" y2="296.4" stroke="#222" stroke-width="1"/>
<line x1="357.5" y1="291.26" x2="361.5" y2="291.26" stroke="#222" stroke-width="1"/>
<line x1="357.5" y1="286.13" x2="361.5" y2="286.13" stroke="#222" stroke-width="1"/>
<line x1="354.5" y1="281" x2="361" y2="281" stroke="#222" stroke-width="1"/>
<text x="352.8" y="463.92" class="tr" text-anchor="end">250</text>
<text x="352.8" y="438.26" class="tr" text-anchor="end">300</text>
<text x="352.8" y="412.6" class="tr" text-anchor="end">350</text>
<text x="352.8" y="386.94" class="tr" text-anchor="end">400</text>
<text x="352.8" y="361.28" class="tr" text-anchor="end">450</text>
<text x="352.8" y="335.62" class="tr" text-anchor="end">500</text>
<text x="352.8" y="309.96" class="tr" text-anchor="end">550</text>
<text x="352.8" y="284.3" class="tr" text-anchor="end">600</text>
<line x1="361.38" y1="476" x2="361.38" y2="479.5" stroke="#222" stroke-width="1"/>
<line x1="367.25" y1="476" x2="367.25" y2="479.5" stroke="#222" stroke-width="1"/>
<line x1="373.12" y1="476" x2="373.12" y2="479.5" stroke="#222" stroke-width="1"/>
<line x1="379" y1="476" x2="379" y2="479.5" stroke="#222" stroke-width="1"/>
<line x1="384.88" y1="476" x2="384.88" y2="479.5" stroke="#222" stroke-width="1"/>
<line x1="390.75" y1="476" x2="390.75" y2="479.5" stroke="#222" stroke-width="1"/>
<line x1="396.62" y1="476" x2="396.62" y2="479.5" stroke="#222" stroke-width="1"/>
<line x1="402.5" y1="476" x2="402.5" y2="482.5" stroke="#222" stroke-width="1"/>
<line x1="408.38" y1="476" x2="408.38" y2="479.5" stroke="#222" stroke-width="1"/>
<line x1="414.25" y1="476" x2="414.25" y2="479.5" stroke="#222" stroke-width="1"/>
<line x1="420.12" y1="476" x2="420.12" y2="479.5" stroke="#222" stroke-width="1"/>
<line x1="426" y1="476" x2="426" y2="479.5" stroke="#222" stroke-width="1"/>
<line x1="431.88" y1="476" x2="431.88" y2="479.5" stroke="#222" stroke-width="1"/>
<line x1="437.75" y1="476" x2="437.75" y2="479.5" stroke="#222" stroke-width="1"/>
<line x1="443.62" y1="476" x2="443.62" y2="479.5" stroke="#222" stroke-width="1"/>
<line x1="449.5" y1="476" x2="449.5" y2="479.5" stroke="#222" stroke-width="1"/>
<line x1="455.38" y1="476" x2="455.38" y2="479.5" stroke="#222" stroke-width="1"/>
<line x1="461.25" y1="476" x2="461.25" y2="482.5" stroke="#222" stroke-width="1"/>
<line x1="467.12" y1="476" x2="467.12" y2="479.5" stroke="#222" stroke-width="1"/>
<line x1="473" y1="476" x2="473" y2="479.5" stroke="#222" stroke-width="1"/>
<line x1="478.88" y1="476" x2="478.88" y2="479.5" stroke="#222" stroke-width="1"/>
<line x1="484.75" y1="476" x2="484.75" y2="479.5" stroke="#222" stroke-width="1"/>
<line x1="490.62" y1="476" x2="490.62" y2="479.5" stroke="#222" stroke-width="1"/>
<line x1="496.5" y1="476" x2="496.5" y2="479.5" stroke="#222" stroke-width="1"/>
<line x1="502.38" y1="476" x2="502.38" y2="479.5" stroke="#222" stroke-width="1"/>
<line x1="508.25" y1="476" x2="508.25" y2="479.5" stroke="#222" stroke-width="1"/>
<line x1="514.12" y1="476" x2="514.12" y2="479.5" stroke="#222" stroke-width="1"/>
<line x1="520" y1="476" x2="520" y2="482.5" stroke="#222" stroke-width="1"/>
<line x1="525.88" y1="476" x2="525.88" y2="479.5" stroke="#222" stroke-width="1"/>
<line x1="531.75" y1="476" x2="531.75" y2="479.5" stroke="#222" stroke-width="1"/>
<line x1="537.62" y1="476" x2="537.62" y2="479.5" stroke="#222" stroke-width="1"/>
<line x1="543.5" y1="476" x2="543.5" y2="479.5" stroke="#222" stroke-width="1"/>
<line x1="549.38" y1="476" x2="549.38" y2="479.5" stroke="#222" stroke-width="1"/>
<line x1="555.25" y1="476" x2="555.25" y2="479.5" stroke="#222" stroke-width="1"/>
<line x1="561.12" y1="476" x2="561.12" y2="479.5" stroke="#222" stroke-width="1"/>
<line x1="567" y1="476" x2="567" y2="479.5" stroke="#222" stroke-width="1"/>
<line x1="572.88" y1="476" x2="572.88" y2="479.5" stroke="#222" stroke-width="1"/>
<line x1="578.75" y1="476" x2="578.75" y2="482.5" stroke="#222" stroke-width="1"/>
<line x1="584.62" y1="476" x2="584.62" y2="479.5" stroke="#222" stroke-width="1"/>
<line x1="590.5" y1="476" x2="590.5" y2="479.5" stroke="#222" stroke-width="1"/>
<text x="402.5" y="491" class="tr" text-anchor="middle">300</text>
<text x="461.25" y="491" class="tr" text-anchor="middle">400</text>
<text x="520" y="491" class="tr" text-anchor="middle">500</text>
<text x="578.75" y="491" class="tr" text-anchor="middle">600</text>
<text x="486" y="507.4" class="tr" text-anchor="middle" style="font-size:8.6px">EM(nm)</text>
<text x="325.7" y="377.5" class="tr" text-anchor="middle">EX</text>
<text x="325" y="387" class="tr" text-anchor="middle">(nm)</text>
<text x="486" y="278.5" class="tr" text-anchor="middle" style="font-size:8.5px;font-weight:bold;fill:#444">1</text>
<line x1="18.5" y1="15.5" x2="622.5" y2="15.5" stroke="#c0c0c0" stroke-width="1" stroke-dasharray="2.8 1.4"/>
<line x1="18.5" y1="270.5" x2="622.5" y2="270.5" stroke="#c0c0c0" stroke-width="1" stroke-dasharray="2.8 1.4"/>
<line x1="18.5" y1="527" x2="622.5" y2="527" stroke="#c0c0c0" stroke-width="1" stroke-dasharray="2.8 1.4"/>
<line x1="18.5" y1="15.5" x2="18.5" y2="527" stroke="#c0c0c0" stroke-width="1" stroke-dasharray="2.8 1.4"/>
<line x1="304.5" y1="15.5" x2="304.5" y2="527" stroke="#c0c0c0" stroke-width="1" stroke-dasharray="2.8 1.4"/>
<line x1="591.5" y1="15.5" x2="591.5" y2="527" stroke="#c0c0c0" stroke-width="1" stroke-dasharray="2.8 1.4"/>
<line x1="607.5" y1="15.5" x2="607.5" y2="527" stroke="#c0c0c0" stroke-width="1" stroke-dasharray="2.8 1.4"/>
<line x1="622.5" y1="15.5" x2="622.5" y2="527" stroke="#c0c0c0" stroke-width="1" stroke-dasharray="2.8 1.4"/>
</svg>
</body></html>
